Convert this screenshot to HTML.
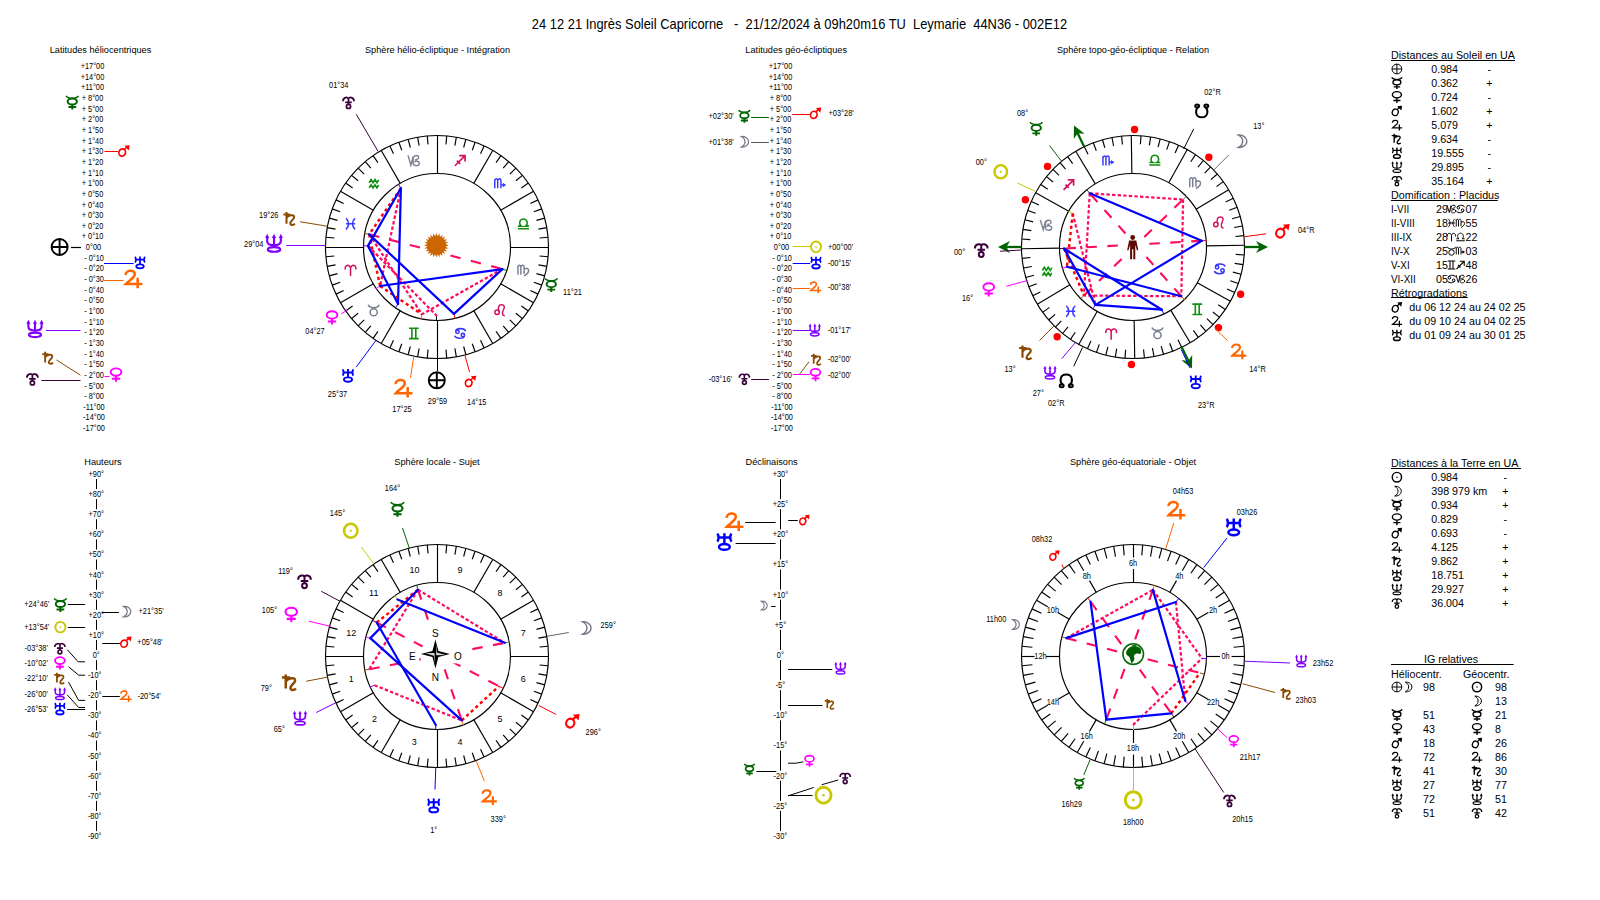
<!DOCTYPE html>
<html><head><meta charset="utf-8"><title>Ingrès Soleil Capricorne</title>
<style>html,body{margin:0;padding:0;background:#fff;width:1600px;height:900px;overflow:hidden}
svg{display:block}text{font-family:"Liberation Sans", sans-serif;white-space:pre}</style></head>
<body><svg width="1600" height="900" viewBox="0 0 1600 900" xml:space="preserve"><defs><symbol id="sun" viewBox="0 0 20 20" overflow="visible"><g fill="none" stroke="currentColor" style="stroke-width:calc(2.8 * var(--k, 1.12))" stroke-linecap="butt" stroke-linejoin="miter"><ellipse cx="10" cy="10" rx="8.4" ry="8.8"/><circle cx="10" cy="10" r="1.4" fill="currentColor" stroke="none"/></g></symbol><symbol id="moon" viewBox="0 0 20 20" overflow="visible"><g fill="none" stroke="currentColor" style="stroke-width:calc(1.9 * var(--k, 1.12))" stroke-linecap="butt" stroke-linejoin="miter"><path d="M6 1.2 C12 0.5 18 4.5 18 10 C18 15.5 12 19.5 6 18.8 C10.5 16.5 12 13.5 12 10 C12 6.5 10.5 3.5 6 1.2 Z"/></g></symbol><symbol id="mercury" viewBox="0 0 20 20" overflow="visible"><g fill="none" stroke="currentColor" style="stroke-width:calc(2.5 * var(--k, 1.12))" stroke-linecap="butt" stroke-linejoin="miter"><path d="M1.2 0.6 C4 5.2 16 5.2 18.8 0.6" style="stroke-width:calc(2 * var(--k, 1.12))"/><ellipse cx="10" cy="8.8" rx="6.6" ry="4.3"/><path d="M10 13 V20 M4.5 16.6 H15.5"/></g></symbol><symbol id="venus" viewBox="0 0 20 20" overflow="visible"><g fill="none" stroke="currentColor" style="stroke-width:calc(2.5 * var(--k, 1.12))" stroke-linecap="butt" stroke-linejoin="miter"><ellipse cx="10" cy="6.3" rx="7.6" ry="5.3"/><path d="M10 11.6 V20 M4 15.8 H16"/></g></symbol><symbol id="mars" viewBox="0 0 20 20" overflow="visible"><g fill="none" stroke="currentColor" style="stroke-width:calc(2.5 * var(--k, 1.12))" stroke-linecap="butt" stroke-linejoin="miter"><ellipse cx="7" cy="12.5" rx="5.4" ry="6" transform="rotate(20 7 12.5)"/><path d="M10.5 7.5 L16 2.5"/><path d="M10.5 1.2 L19.5 0.3 L18 9 Z" fill="currentColor" stroke="none"/></g></symbol><symbol id="jupiter" viewBox="0 0 20 20" overflow="visible"><g fill="none" stroke="currentColor" style="stroke-width:calc(2.4 * var(--k, 1.12))" stroke-linecap="butt" stroke-linejoin="miter"><path d="M1.8 6 C1.5 1 11.5 -0.5 11.5 5 C11.5 9 5 12 2 15.5 H19.5 M14.5 9 V20"/></g></symbol><symbol id="saturn" viewBox="0 0 20 20" overflow="visible"><g fill="none" stroke="currentColor" style="stroke-width:calc(2.6 * var(--k, 1.12))" stroke-linecap="butt" stroke-linejoin="miter"><path d="M5 0.5 V17 M0.5 4 H10 M5 9 C7 5 16 3 16 7.5 C16 11 10.5 13 10.5 16.5 C10.5 19.5 15 19.5 17 17"/></g></symbol><symbol id="uranus" viewBox="0 0 20 20" overflow="visible"><g fill="none" stroke="currentColor" style="stroke-width:calc(2.5 * var(--k, 1.12))" stroke-linecap="butt" stroke-linejoin="miter"><path d="M2 1 C4 3 4 8 2 10 M18 1 C16 3 16 8 18 10 M3.5 5.5 H16.5 M10 0.5 V13"/><ellipse cx="10" cy="16" rx="6" ry="3.2"/></g></symbol><symbol id="neptune" viewBox="0 0 20 20" overflow="visible"><g fill="none" stroke="currentColor" style="stroke-width:calc(2.1 * var(--k, 1.12))" stroke-linecap="butt" stroke-linejoin="miter"><path d="M2.6 3.5 V8 C2.6 11.5 5 12.3 10 12.3 C15 12.3 17.4 11.5 17.4 8 V3.5 M10 3.5 V14.2"/><ellipse cx="10" cy="17" rx="6.8" ry="2.5"/><path d="M0.3 4.6 L2.6 0 L4.9 4.6 Z M7.7 4.6 L10 0 L12.3 4.6 Z M15.1 4.6 L17.4 0 L19.7 4.6 Z" fill="currentColor" stroke="none"/></g></symbol><symbol id="pluto" viewBox="0 0 20 20" overflow="visible"><g fill="none" stroke="currentColor" style="stroke-width:calc(2.4 * var(--k, 1.12))" stroke-linecap="butt" stroke-linejoin="miter"><path d="M1.5 8 C1.5 1.5 10 0.5 10 5 C10 0.5 18.5 1.5 18.5 8 M10 5 V13 M5 9.8 H15"/><circle cx="10" cy="16" r="3.2"/></g></symbol><symbol id="earth" viewBox="0 0 20 20" overflow="visible"><g fill="none" stroke="currentColor" style="stroke-width:calc(1.9 * var(--k, 1.12))" stroke-linecap="butt" stroke-linejoin="miter"><circle cx="10" cy="10" r="8.9"/><path d="M10 1.1 V18.9 M1.1 10 H18.9"/></g></symbol><symbol id="nnode" viewBox="0 0 20 20" overflow="visible"><g fill="none" stroke="currentColor" style="stroke-width:calc(2.3 * var(--k, 1.12))" stroke-linecap="butt" stroke-linejoin="miter"><path d="M5.5 16 C1 12 1 2 10 2 C19 2 19 12 14.5 16"/><ellipse cx="4" cy="17" rx="2.6" ry="2"/><ellipse cx="16" cy="17" rx="2.6" ry="2"/></g></symbol><symbol id="snode" viewBox="0 0 20 20" overflow="visible"><g fill="none" stroke="currentColor" style="stroke-width:calc(2.3 * var(--k, 1.12))" stroke-linecap="butt" stroke-linejoin="miter"><path d="M5.5 4 C1 8 1 18 10 18 C19 18 19 8 14.5 4"/><ellipse cx="4" cy="3" rx="2.6" ry="2"/><ellipse cx="16" cy="3" rx="2.6" ry="2"/></g></symbol><symbol id="z1" viewBox="0 0 20 20" overflow="visible"><g fill="none" stroke="currentColor" style="stroke-width:calc(2.1 * var(--k, 1.12))" stroke-linecap="butt" stroke-linejoin="miter"><path d="M2 9 C0 2 9 0 10 7 V19 M10 7 C11 0 20 2 18 9"/></g></symbol><symbol id="z2" viewBox="0 0 20 20" overflow="visible"><g fill="none" stroke="currentColor" style="stroke-width:calc(2.1 * var(--k, 1.12))" stroke-linecap="butt" stroke-linejoin="miter"><path d="M1.5 1.5 C3.5 7.5 16.5 7.5 18.5 1.5"/><circle cx="10" cy="13" r="5.5"/></g></symbol><symbol id="z3" viewBox="0 0 20 20" overflow="visible"><g fill="none" stroke="currentColor" style="stroke-width:calc(2.2 * var(--k, 1.12))" stroke-linecap="butt" stroke-linejoin="miter"><path d="M2.5 2 H17.5 M2.5 18 H17.5 M7 2 V18 M13 2 V18"/></g></symbol><symbol id="z4" viewBox="0 0 20 20" overflow="visible"><g fill="none" stroke="currentColor" style="stroke-width:calc(2.1 * var(--k, 1.12))" stroke-linecap="butt" stroke-linejoin="miter"><path d="M3.5 6.5 C4 1.5 16 1 18.5 6.5 M16.5 13.5 C16 18.5 4 19 1.5 13.5"/><circle cx="5.8" cy="7.5" r="2.6"/><circle cx="14.2" cy="12.5" r="2.6"/></g></symbol><symbol id="z5" viewBox="0 0 20 20" overflow="visible"><g fill="none" stroke="currentColor" style="stroke-width:calc(2.0 * var(--k, 1.12))" stroke-linecap="butt" stroke-linejoin="miter"><circle cx="5" cy="13" r="3.4"/><path d="M8.3 12 C5.5 6 7.5 1.5 12 1.5 C16.5 1.5 17.5 5 14.5 10 C12.5 14 13 18.5 17 18.5"/></g></symbol><symbol id="z6" viewBox="0 0 20 20" overflow="visible"><g fill="none" stroke="currentColor" style="stroke-width:calc(2.0 * var(--k, 1.12))" stroke-linecap="butt" stroke-linejoin="miter"><path d="M1.5 3 V17 M1.5 5 C3 1 6 2 6 5 V17 M6 5 C8 1 11 2 11 5 V16 M11 9 C14 6 18 7 18 11 C18 15 14 17 11 19"/></g></symbol><symbol id="z7" viewBox="0 0 20 20" overflow="visible"><g fill="none" stroke="currentColor" style="stroke-width:calc(2.1 * var(--k, 1.12))" stroke-linecap="butt" stroke-linejoin="miter"><path d="M1.5 17.5 H18.5 M1.5 13.5 H7 C2.5 11 3.5 2.5 10 2.5 C16.5 2.5 17.5 11 13 13.5 H18.5"/></g></symbol><symbol id="z8" viewBox="0 0 20 20" overflow="visible"><g fill="none" stroke="currentColor" style="stroke-width:calc(2.0 * var(--k, 1.12))" stroke-linecap="butt" stroke-linejoin="miter"><path d="M1.5 3 V17 M1.5 5 C3 1 6 2 6 5 V17 M6 5 C8 1 11 2 11 5 V17 M11 12 H15"/><path d="M14 8.5 L19 12 L14 15.5 Z" fill="currentColor" stroke="none"/></g></symbol><symbol id="z9" viewBox="0 0 20 20" overflow="visible"><g fill="none" stroke="currentColor" style="stroke-width:calc(2.3 * var(--k, 1.12))" stroke-linecap="butt" stroke-linejoin="miter"><path d="M2 18 L16 4 M8.5 2.5 H17.5 V11.5 M5 10 L10 15"/></g></symbol><symbol id="z10" viewBox="0 0 20 20" overflow="visible"><g fill="none" stroke="currentColor" style="stroke-width:calc(1.9 * var(--k, 1.12))" stroke-linecap="butt" stroke-linejoin="miter"><path d="M1 2 L5.5 17 L9 3.5 V14.5 C9 19 18.5 19 18.5 14 C18.5 10.5 13 10 11 12.5 M9 6.5 C9.5 1.5 17.5 1 17.5 5 C17.5 8 13 9 11.5 9"/></g></symbol><symbol id="z11" viewBox="0 0 20 20" overflow="visible"><g fill="none" stroke="currentColor" style="stroke-width:calc(2.2 * var(--k, 1.12))" stroke-linecap="butt" stroke-linejoin="miter"><path d="M3 8.5 L6 3.5 L9 8.5 L12 3.5 L15 8.5 L17.5 4 M3 16.5 L6 11.5 L9 16.5 L12 11.5 L15 16.5 L17.5 12"/></g></symbol><symbol id="z12" viewBox="0 0 20 20" overflow="visible"><g fill="none" stroke="currentColor" style="stroke-width:calc(2.1 * var(--k, 1.12))" stroke-linecap="butt" stroke-linejoin="miter"><path d="M3 1.5 C8.5 6 8.5 14 3 18.5 M17 1.5 C11.5 6 11.5 14 17 18.5 M3 10 H17"/></g></symbol></defs>
<text transform="translate(799.50 28.51) scale(0.922 1)" font-size="14" text-anchor="middle">24 12 21 Ingrès Soleil Capricorne   -  21/12/2024 à 09h20m16 TU  Leymarie  44N36 - 002E12</text>
<text x="100.50" y="52.69" font-size="9.2" text-anchor="middle">Latitudes héliocentriques</text>
<text x="437.50" y="52.69" font-size="9.2" text-anchor="middle">Sphère hélio-écliptique - Intégration</text>
<text x="796.20" y="52.69" font-size="9.2" text-anchor="middle">Latitudes géo-écliptiques</text>
<text x="1133.00" y="52.69" font-size="9.2" text-anchor="middle">Sphère topo-géo-écliptique - Relation</text>
<text x="102.90" y="464.89" font-size="9.2" text-anchor="middle">Hauteurs</text>
<text x="437.00" y="464.89" font-size="9.2" text-anchor="middle">Sphère locale - Sujet</text>
<text x="771.60" y="464.89" font-size="9.2" text-anchor="middle">Déclinaisons</text>
<text x="1133.00" y="464.89" font-size="9.2" text-anchor="middle">Sphère géo-équatoriale - Objet</text>
<text transform="translate(92.50 69.14) scale(0.9 1)" font-size="8.2" text-anchor="middle">+17°00</text>
<text transform="translate(92.50 79.78) scale(0.9 1)" font-size="8.2" text-anchor="middle">+14°00</text>
<text transform="translate(92.50 90.43) scale(0.9 1)" font-size="8.2" text-anchor="middle">+11°00</text>
<text transform="translate(92.50 101.08) scale(0.9 1)" font-size="8.2" text-anchor="middle">+ 8°00</text>
<text transform="translate(92.50 111.72) scale(0.9 1)" font-size="8.2" text-anchor="middle">+ 5°00</text>
<text transform="translate(92.50 122.37) scale(0.9 1)" font-size="8.2" text-anchor="middle">+ 2°00</text>
<text transform="translate(92.50 133.02) scale(0.9 1)" font-size="8.2" text-anchor="middle">+ 1°50</text>
<text transform="translate(92.50 143.67) scale(0.9 1)" font-size="8.2" text-anchor="middle">+ 1°40</text>
<text transform="translate(92.50 154.31) scale(0.9 1)" font-size="8.2" text-anchor="middle">+ 1°30</text>
<text transform="translate(92.50 164.96) scale(0.9 1)" font-size="8.2" text-anchor="middle">+ 1°20</text>
<text transform="translate(92.50 175.61) scale(0.9 1)" font-size="8.2" text-anchor="middle">+ 1°10</text>
<text transform="translate(92.50 186.25) scale(0.9 1)" font-size="8.2" text-anchor="middle">+ 1°00</text>
<text transform="translate(92.50 196.90) scale(0.9 1)" font-size="8.2" text-anchor="middle">+ 0°50</text>
<text transform="translate(92.50 207.55) scale(0.9 1)" font-size="8.2" text-anchor="middle">+ 0°40</text>
<text transform="translate(92.50 218.19) scale(0.9 1)" font-size="8.2" text-anchor="middle">+ 0°30</text>
<text transform="translate(92.50 228.84) scale(0.9 1)" font-size="8.2" text-anchor="middle">+ 0°20</text>
<text transform="translate(92.50 239.49) scale(0.9 1)" font-size="8.2" text-anchor="middle">+ 0°10</text>
<text transform="translate(93.50 250.14) scale(0.9 1)" font-size="8.2" text-anchor="middle">0°00</text>
<text transform="translate(94.00 260.78) scale(0.9 1)" font-size="8.2" text-anchor="middle">- 0°10</text>
<text transform="translate(94.00 271.43) scale(0.9 1)" font-size="8.2" text-anchor="middle">- 0°20</text>
<text transform="translate(94.00 282.08) scale(0.9 1)" font-size="8.2" text-anchor="middle">- 0°30</text>
<text transform="translate(94.00 292.72) scale(0.9 1)" font-size="8.2" text-anchor="middle">- 0°40</text>
<text transform="translate(94.00 303.37) scale(0.9 1)" font-size="8.2" text-anchor="middle">- 0°50</text>
<text transform="translate(94.00 314.02) scale(0.9 1)" font-size="8.2" text-anchor="middle">- 1°00</text>
<text transform="translate(94.00 324.67) scale(0.9 1)" font-size="8.2" text-anchor="middle">- 1°10</text>
<text transform="translate(94.00 335.31) scale(0.9 1)" font-size="8.2" text-anchor="middle">- 1°20</text>
<text transform="translate(94.00 345.96) scale(0.9 1)" font-size="8.2" text-anchor="middle">- 1°30</text>
<text transform="translate(94.00 356.61) scale(0.9 1)" font-size="8.2" text-anchor="middle">- 1°40</text>
<text transform="translate(94.00 367.25) scale(0.9 1)" font-size="8.2" text-anchor="middle">- 1°50</text>
<text transform="translate(94.00 377.90) scale(0.9 1)" font-size="8.2" text-anchor="middle">- 2°00</text>
<text transform="translate(94.00 388.55) scale(0.9 1)" font-size="8.2" text-anchor="middle">- 5°00</text>
<text transform="translate(94.00 399.19) scale(0.9 1)" font-size="8.2" text-anchor="middle">- 8°00</text>
<text transform="translate(94.00 409.84) scale(0.9 1)" font-size="8.2" text-anchor="middle">-11°00</text>
<text transform="translate(94.00 420.49) scale(0.9 1)" font-size="8.2" text-anchor="middle">-14°00</text>
<text transform="translate(94.00 431.14) scale(0.9 1)" font-size="8.2" text-anchor="middle">-17°00</text>
<text transform="translate(780.50 69.14) scale(0.9 1)" font-size="8.2" text-anchor="middle">+17°00</text>
<text transform="translate(780.50 79.78) scale(0.9 1)" font-size="8.2" text-anchor="middle">+14°00</text>
<text transform="translate(780.50 90.43) scale(0.9 1)" font-size="8.2" text-anchor="middle">+11°00</text>
<text transform="translate(780.50 101.08) scale(0.9 1)" font-size="8.2" text-anchor="middle">+ 8°00</text>
<text transform="translate(780.50 111.72) scale(0.9 1)" font-size="8.2" text-anchor="middle">+ 5°00</text>
<text transform="translate(780.50 122.37) scale(0.9 1)" font-size="8.2" text-anchor="middle">+ 2°00</text>
<text transform="translate(780.50 133.02) scale(0.9 1)" font-size="8.2" text-anchor="middle">+ 1°50</text>
<text transform="translate(780.50 143.67) scale(0.9 1)" font-size="8.2" text-anchor="middle">+ 1°40</text>
<text transform="translate(780.50 154.31) scale(0.9 1)" font-size="8.2" text-anchor="middle">+ 1°30</text>
<text transform="translate(780.50 164.96) scale(0.9 1)" font-size="8.2" text-anchor="middle">+ 1°20</text>
<text transform="translate(780.50 175.61) scale(0.9 1)" font-size="8.2" text-anchor="middle">+ 1°10</text>
<text transform="translate(780.50 186.25) scale(0.9 1)" font-size="8.2" text-anchor="middle">+ 1°00</text>
<text transform="translate(780.50 196.90) scale(0.9 1)" font-size="8.2" text-anchor="middle">+ 0°50</text>
<text transform="translate(780.50 207.55) scale(0.9 1)" font-size="8.2" text-anchor="middle">+ 0°40</text>
<text transform="translate(780.50 218.19) scale(0.9 1)" font-size="8.2" text-anchor="middle">+ 0°30</text>
<text transform="translate(780.50 228.84) scale(0.9 1)" font-size="8.2" text-anchor="middle">+ 0°20</text>
<text transform="translate(780.50 239.49) scale(0.9 1)" font-size="8.2" text-anchor="middle">+ 0°10</text>
<text transform="translate(781.50 250.14) scale(0.9 1)" font-size="8.2" text-anchor="middle">0°00</text>
<text transform="translate(782.00 260.78) scale(0.9 1)" font-size="8.2" text-anchor="middle">- 0°10</text>
<text transform="translate(782.00 271.43) scale(0.9 1)" font-size="8.2" text-anchor="middle">- 0°20</text>
<text transform="translate(782.00 282.08) scale(0.9 1)" font-size="8.2" text-anchor="middle">- 0°30</text>
<text transform="translate(782.00 292.72) scale(0.9 1)" font-size="8.2" text-anchor="middle">- 0°40</text>
<text transform="translate(782.00 303.37) scale(0.9 1)" font-size="8.2" text-anchor="middle">- 0°50</text>
<text transform="translate(782.00 314.02) scale(0.9 1)" font-size="8.2" text-anchor="middle">- 1°00</text>
<text transform="translate(782.00 324.67) scale(0.9 1)" font-size="8.2" text-anchor="middle">- 1°10</text>
<text transform="translate(782.00 335.31) scale(0.9 1)" font-size="8.2" text-anchor="middle">- 1°20</text>
<text transform="translate(782.00 345.96) scale(0.9 1)" font-size="8.2" text-anchor="middle">- 1°30</text>
<text transform="translate(782.00 356.61) scale(0.9 1)" font-size="8.2" text-anchor="middle">- 1°40</text>
<text transform="translate(782.00 367.25) scale(0.9 1)" font-size="8.2" text-anchor="middle">- 1°50</text>
<text transform="translate(782.00 377.90) scale(0.9 1)" font-size="8.2" text-anchor="middle">- 2°00</text>
<text transform="translate(782.00 388.55) scale(0.9 1)" font-size="8.2" text-anchor="middle">- 5°00</text>
<text transform="translate(782.00 399.19) scale(0.9 1)" font-size="8.2" text-anchor="middle">- 8°00</text>
<text transform="translate(782.00 409.84) scale(0.9 1)" font-size="8.2" text-anchor="middle">-11°00</text>
<text transform="translate(782.00 420.49) scale(0.9 1)" font-size="8.2" text-anchor="middle">-14°00</text>
<text transform="translate(782.00 431.14) scale(0.9 1)" font-size="8.2" text-anchor="middle">-17°00</text>
<use href="#mercury" x="65.28" y="95.38" width="14.04" height="14.04" color="#006400"/>
<use href="#mars" x="118.00" y="145.00" width="12.00" height="12.00" color="#ff0000"/>
<line x1="104.50" y1="151.50" x2="118.00" y2="151.50" stroke="#ff0000" stroke-width="1"/>
<use href="#earth" x="50.60" y="238.00" width="18.00" height="18.00" color="#000"/>
<line x1="71.00" y1="247.50" x2="81.00" y2="247.50" stroke="#000" stroke-width="1.2"/>
<use href="#uranus" x="133.70" y="256.20" width="12.60" height="12.60" color="#0000ff"/>
<line x1="104.00" y1="263.50" x2="133.70" y2="263.50" stroke="#0000ff" stroke-width="1"/>
<use href="#jupiter" x="123.90" y="269.30" width="19.00" height="19.00" color="#ff6600"/>
<line x1="104.00" y1="280.50" x2="123.70" y2="280.50" stroke="#ff6600" stroke-width="1"/>
<use href="#neptune" x="26.07" y="319.68" width="17.85" height="17.85" color="#8000ff"/>
<line x1="45.90" y1="330.50" x2="80.50" y2="330.50" stroke="#8000ff" stroke-width="1"/>
<use href="#saturn" x="41.90" y="351.50" width="13.00" height="13.00" color="#8b4a00"/>
<line x1="56.50" y1="360.00" x2="80.50" y2="375.20" stroke="#8b4a00" stroke-width="1"/>
<use href="#pluto" x="25.90" y="372.50" width="13.00" height="13.00" color="#3a003a"/>
<line x1="41.30" y1="380.50" x2="80.50" y2="380.50" stroke="#3a003a" stroke-width="1"/>
<use href="#venus" x="108.98" y="367.68" width="14.04" height="14.04" color="#ff00ff"/>
<line x1="104.50" y1="376.50" x2="109.50" y2="376.50" stroke="#ff00ff" stroke-width="1"/>
<use href="#mercury" x="737.92" y="109.72" width="12.96" height="12.96" color="#006400"/>
<line x1="751.10" y1="117.50" x2="768.90" y2="117.50" stroke="#006400" stroke-width="1"/>
<text transform="translate(721.10 119.14) scale(0.9 1)" font-size="8.2" text-anchor="middle">+02°30'</text>
<use href="#mars" x="809.60" y="107.30" width="12.00" height="12.00" color="#ff0000"/>
<line x1="792.20" y1="114.50" x2="810.00" y2="114.50" stroke="#ff0000" stroke-width="1"/>
<text transform="translate(841.10 116.24) scale(0.9 1)" font-size="8.2" text-anchor="middle">+03°28'</text>
<use href="#moon" x="737.80" y="135.80" width="12.00" height="12.00" color="#787888"/>
<line x1="751.10" y1="142.50" x2="768.90" y2="142.50" stroke="#555" stroke-width="1"/>
<text transform="translate(721.10 144.74) scale(0.9 1)" font-size="8.2" text-anchor="middle">+01°38'</text>
<use href="#sun" x="810.00" y="240.80" width="12.00" height="12.00" color="#c8c800"/>
<line x1="792.70" y1="246.50" x2="810.20" y2="246.50" stroke="#c8c800" stroke-width="1"/>
<text transform="translate(840.50 249.74) scale(0.9 1)" font-size="8.2" text-anchor="middle">+00°00'</text>
<use href="#uranus" x="809.70" y="256.40" width="12.60" height="12.60" color="#0000ff"/>
<line x1="792.70" y1="263.50" x2="810.20" y2="263.50" stroke="#0000ff" stroke-width="1"/>
<text transform="translate(839.30 265.64) scale(0.9 1)" font-size="8.2" text-anchor="middle">-00°15'</text>
<use href="#jupiter" x="809.50" y="281.20" width="12.00" height="12.00" color="#ff6600"/>
<line x1="792.70" y1="288.50" x2="810.20" y2="288.50" stroke="#ff6600" stroke-width="1"/>
<text transform="translate(839.30 290.14) scale(0.9 1)" font-size="8.2" text-anchor="middle">-00°38'</text>
<use href="#neptune" x="808.50" y="323.60" width="12.60" height="12.60" color="#8000ff"/>
<line x1="792.70" y1="330.50" x2="810.00" y2="330.50" stroke="#8000ff" stroke-width="1"/>
<text transform="translate(839.30 332.84) scale(0.9 1)" font-size="8.2" text-anchor="middle">-01°17'</text>
<use href="#saturn" x="810.70" y="353.50" width="12.00" height="12.00" color="#8b4a00"/>
<line x1="799.20" y1="374.70" x2="809.00" y2="361.80" stroke="#8b4a00" stroke-width="1"/>
<text transform="translate(839.30 362.44) scale(0.9 1)" font-size="8.2" text-anchor="middle">-02°00'</text>
<use href="#venus" x="809.02" y="368.22" width="12.96" height="12.96" color="#ff00ff"/>
<line x1="792.70" y1="374.50" x2="810.00" y2="374.50" stroke="#ff00ff" stroke-width="1"/>
<text transform="translate(839.30 377.64) scale(0.9 1)" font-size="8.2" text-anchor="middle">-02°00'</text>
<use href="#pluto" x="738.40" y="372.90" width="12.00" height="12.00" color="#3a003a"/>
<line x1="751.10" y1="379.50" x2="768.90" y2="379.50" stroke="#3a003a" stroke-width="1"/>
<text transform="translate(720.30 381.84) scale(0.9 1)" font-size="8.2" text-anchor="middle">-03°16'</text>
<text transform="translate(96.20 476.94) scale(0.9 1)" font-size="8.2" text-anchor="middle">+90°</text>
<line x1="96.50" y1="479.00" x2="96.50" y2="489.12" stroke="#000" stroke-width="1"/>
<text transform="translate(96.20 497.05) scale(0.9 1)" font-size="8.2" text-anchor="middle">+80°</text>
<line x1="96.50" y1="499.12" x2="96.50" y2="509.23" stroke="#000" stroke-width="1"/>
<text transform="translate(96.20 517.17) scale(0.9 1)" font-size="8.2" text-anchor="middle">+70°</text>
<line x1="96.50" y1="519.23" x2="96.50" y2="529.35" stroke="#000" stroke-width="1"/>
<text transform="translate(96.20 537.29) scale(0.9 1)" font-size="8.2" text-anchor="middle">+60°</text>
<line x1="96.50" y1="539.35" x2="96.50" y2="549.47" stroke="#000" stroke-width="1"/>
<text transform="translate(96.20 557.40) scale(0.9 1)" font-size="8.2" text-anchor="middle">+50°</text>
<line x1="96.50" y1="559.47" x2="96.50" y2="569.58" stroke="#000" stroke-width="1"/>
<text transform="translate(96.20 577.52) scale(0.9 1)" font-size="8.2" text-anchor="middle">+40°</text>
<line x1="96.50" y1="579.58" x2="96.50" y2="589.70" stroke="#000" stroke-width="1"/>
<text transform="translate(96.20 597.64) scale(0.9 1)" font-size="8.2" text-anchor="middle">+30°</text>
<line x1="96.50" y1="599.70" x2="96.50" y2="609.82" stroke="#000" stroke-width="1"/>
<text transform="translate(96.20 617.75) scale(0.9 1)" font-size="8.2" text-anchor="middle">+20°</text>
<line x1="96.50" y1="619.82" x2="96.50" y2="629.93" stroke="#000" stroke-width="1"/>
<text transform="translate(96.20 637.87) scale(0.9 1)" font-size="8.2" text-anchor="middle">+10°</text>
<line x1="96.50" y1="639.93" x2="96.50" y2="650.05" stroke="#000" stroke-width="1"/>
<text transform="translate(96.20 657.99) scale(0.9 1)" font-size="8.2" text-anchor="middle">0°</text>
<line x1="96.50" y1="660.05" x2="96.50" y2="670.17" stroke="#000" stroke-width="1"/>
<text transform="translate(94.70 678.10) scale(0.9 1)" font-size="8.2" text-anchor="middle">-10°</text>
<line x1="96.50" y1="680.17" x2="96.50" y2="690.28" stroke="#000" stroke-width="1"/>
<text transform="translate(94.70 698.22) scale(0.9 1)" font-size="8.2" text-anchor="middle">-20°</text>
<line x1="96.50" y1="700.28" x2="96.50" y2="710.40" stroke="#000" stroke-width="1"/>
<text transform="translate(94.70 718.34) scale(0.9 1)" font-size="8.2" text-anchor="middle">-30°</text>
<line x1="96.50" y1="720.40" x2="96.50" y2="730.52" stroke="#000" stroke-width="1"/>
<text transform="translate(94.70 738.45) scale(0.9 1)" font-size="8.2" text-anchor="middle">-40°</text>
<line x1="96.50" y1="740.52" x2="96.50" y2="750.63" stroke="#000" stroke-width="1"/>
<text transform="translate(94.70 758.57) scale(0.9 1)" font-size="8.2" text-anchor="middle">-50°</text>
<line x1="96.50" y1="760.63" x2="96.50" y2="770.75" stroke="#000" stroke-width="1"/>
<text transform="translate(94.70 778.69) scale(0.9 1)" font-size="8.2" text-anchor="middle">-60°</text>
<line x1="96.50" y1="780.75" x2="96.50" y2="790.87" stroke="#000" stroke-width="1"/>
<text transform="translate(94.70 798.80) scale(0.9 1)" font-size="8.2" text-anchor="middle">-70°</text>
<line x1="96.50" y1="800.87" x2="96.50" y2="810.98" stroke="#000" stroke-width="1"/>
<text transform="translate(94.70 818.92) scale(0.9 1)" font-size="8.2" text-anchor="middle">-80°</text>
<line x1="96.50" y1="820.98" x2="96.50" y2="831.10" stroke="#000" stroke-width="1"/>
<text transform="translate(94.70 839.04) scale(0.9 1)" font-size="8.2" text-anchor="middle">-90°</text>
<use href="#mercury" x="53.38" y="597.88" width="14.04" height="14.04" color="#006400"/>
<line x1="67.80" y1="604.50" x2="85.10" y2="604.50" stroke="#000" stroke-width="1"/>
<text transform="translate(36.70 606.74) scale(0.9 1)" font-size="8.2" text-anchor="middle">+24°46'</text>
<use href="#moon" x="120.00" y="605.60" width="12.00" height="12.00" color="#787888"/>
<line x1="101.80" y1="612.50" x2="118.90" y2="612.50" stroke="#000" stroke-width="1"/>
<text transform="translate(151.10 613.84) scale(0.9 1)" font-size="8.2" text-anchor="middle">+21°35'</text>
<use href="#sun" x="54.40" y="621.10" width="12.00" height="12.00" color="#c8c800"/>
<line x1="67.80" y1="627.50" x2="85.10" y2="627.50" stroke="#000" stroke-width="1"/>
<text transform="translate(36.70 630.04) scale(0.9 1)" font-size="8.2" text-anchor="middle">+13°54'</text>
<use href="#mars" x="119.90" y="636.20" width="12.00" height="12.00" color="#ff0000"/>
<line x1="102.20" y1="643.50" x2="119.80" y2="643.50" stroke="#000" stroke-width="1"/>
<text transform="translate(149.90 645.14) scale(0.9 1)" font-size="8.2" text-anchor="middle">+05°48'</text>
<use href="#jupiter" x="119.90" y="690.00" width="12.00" height="12.00" color="#ff6600"/>
<line x1="102.20" y1="696.50" x2="119.80" y2="696.50" stroke="#000" stroke-width="1"/>
<text transform="translate(149.10 698.94) scale(0.9 1)" font-size="8.2" text-anchor="middle">-20°54'</text>
<use href="#pluto" x="53.90" y="642.30" width="12.00" height="12.00" color="#3a003a"/>
<polyline points="67.20,649.60 78.20,661.80 85.10,661.80" fill="none" stroke="#000" stroke-width="1"/>
<text transform="translate(36.20 651.24) scale(0.9 1)" font-size="8.2" text-anchor="middle">-03°38'</text>
<use href="#venus" x="53.42" y="656.52" width="12.96" height="12.96" color="#ff00ff"/>
<polyline points="68.50,666.70 78.70,675.20 85.10,675.20" fill="none" stroke="#000" stroke-width="1"/>
<text transform="translate(36.20 665.94) scale(0.9 1)" font-size="8.2" text-anchor="middle">-10°02'</text>
<use href="#saturn" x="53.90" y="672.40" width="12.00" height="12.00" color="#8b4a00"/>
<polyline points="68.50,682.10 78.70,700.40 85.10,700.40" fill="none" stroke="#000" stroke-width="1"/>
<text transform="translate(36.20 681.34) scale(0.9 1)" font-size="8.2" text-anchor="middle">-22°10'</text>
<use href="#neptune" x="53.60" y="687.30" width="12.60" height="12.60" color="#8000ff"/>
<polyline points="67.20,694.80 78.70,707.50 85.10,707.50" fill="none" stroke="#000" stroke-width="1"/>
<text transform="translate(36.20 696.54) scale(0.9 1)" font-size="8.2" text-anchor="middle">-26°00'</text>
<use href="#uranus" x="53.60" y="702.40" width="12.60" height="12.60" color="#0000ff"/>
<line x1="67.20" y1="709.50" x2="85.10" y2="709.50" stroke="#000" stroke-width="1"/>
<text transform="translate(36.20 711.64) scale(0.9 1)" font-size="8.2" text-anchor="middle">-26°53'</text>
<text transform="translate(780.40 476.94) scale(0.9 1)" font-size="8.2" text-anchor="middle">+30°</text>
<line x1="780.50" y1="479.00" x2="780.50" y2="499.17" stroke="#000" stroke-width="1"/>
<text transform="translate(780.40 507.10) scale(0.9 1)" font-size="8.2" text-anchor="middle">+25°</text>
<line x1="780.50" y1="509.17" x2="780.50" y2="529.33" stroke="#000" stroke-width="1"/>
<text transform="translate(780.40 537.27) scale(0.9 1)" font-size="8.2" text-anchor="middle">+20°</text>
<line x1="780.50" y1="539.33" x2="780.50" y2="559.50" stroke="#000" stroke-width="1"/>
<text transform="translate(780.40 567.44) scale(0.9 1)" font-size="8.2" text-anchor="middle">+15°</text>
<line x1="780.50" y1="569.50" x2="780.50" y2="589.67" stroke="#000" stroke-width="1"/>
<text transform="translate(780.40 597.60) scale(0.9 1)" font-size="8.2" text-anchor="middle">+10°</text>
<line x1="780.50" y1="599.67" x2="780.50" y2="619.83" stroke="#000" stroke-width="1"/>
<text transform="translate(780.40 627.77) scale(0.9 1)" font-size="8.2" text-anchor="middle">+5°</text>
<line x1="780.50" y1="629.83" x2="780.50" y2="650.00" stroke="#000" stroke-width="1"/>
<text transform="translate(780.40 657.94) scale(0.9 1)" font-size="8.2" text-anchor="middle">0°</text>
<line x1="780.50" y1="660.00" x2="780.50" y2="680.17" stroke="#000" stroke-width="1"/>
<text transform="translate(780.40 688.10) scale(0.9 1)" font-size="8.2" text-anchor="middle">-5°</text>
<line x1="780.50" y1="690.17" x2="780.50" y2="710.33" stroke="#000" stroke-width="1"/>
<text transform="translate(780.40 718.27) scale(0.9 1)" font-size="8.2" text-anchor="middle">-10°</text>
<line x1="780.50" y1="720.33" x2="780.50" y2="740.50" stroke="#000" stroke-width="1"/>
<text transform="translate(780.40 748.44) scale(0.9 1)" font-size="8.2" text-anchor="middle">-15°</text>
<line x1="780.50" y1="750.50" x2="780.50" y2="770.67" stroke="#000" stroke-width="1"/>
<text transform="translate(780.40 778.60) scale(0.9 1)" font-size="8.2" text-anchor="middle">-20°</text>
<line x1="780.50" y1="780.67" x2="780.50" y2="800.83" stroke="#000" stroke-width="1"/>
<text transform="translate(780.40 808.77) scale(0.9 1)" font-size="8.2" text-anchor="middle">-25°</text>
<line x1="780.50" y1="810.83" x2="780.50" y2="831.00" stroke="#000" stroke-width="1"/>
<text transform="translate(780.40 838.94) scale(0.9 1)" font-size="8.2" text-anchor="middle">-30°</text>
<use href="#jupiter" x="724.90" y="512.10" width="19.00" height="19.00" color="#ff6600"/>
<line x1="745.10" y1="522.50" x2="775.60" y2="522.50" stroke="#000" stroke-width="1"/>
<use href="#mars" x="798.90" y="514.50" width="11.00" height="11.00" color="#ff0000"/>
<line x1="788.20" y1="520.50" x2="797.80" y2="520.50" stroke="#000" stroke-width="1"/>
<use href="#uranus" x="715.48" y="532.68" width="17.85" height="17.85" color="#0000ff"/>
<line x1="735.60" y1="543.50" x2="775.60" y2="543.50" stroke="#000" stroke-width="1"/>
<use href="#moon" x="758.30" y="600.60" width="10.00" height="10.00" color="#787888"/>
<line x1="771.10" y1="606.50" x2="775.60" y2="606.50" stroke="#000" stroke-width="1"/>
<use href="#neptune" x="834.20" y="661.70" width="12.60" height="12.60" color="#8000ff"/>
<line x1="788.00" y1="669.50" x2="832.30" y2="669.50" stroke="#000" stroke-width="1"/>
<use href="#saturn" x="824.50" y="698.70" width="11.00" height="11.00" color="#8b4a00"/>
<line x1="788.00" y1="705.50" x2="822.50" y2="705.50" stroke="#000" stroke-width="1"/>
<use href="#venus" x="803.56" y="754.96" width="11.88" height="11.88" color="#ff00ff"/>
<polyline points="788.00,763.20 796.20,763.20 803.20,761.80" fill="none" stroke="#000" stroke-width="1"/>
<use href="#mercury" x="743.56" y="763.56" width="11.88" height="11.88" color="#006400"/>
<line x1="756.50" y1="771.50" x2="776.30" y2="771.50" stroke="#000" stroke-width="1"/>
<use href="#pluto" x="839.20" y="772.10" width="12.00" height="12.00" color="#3a003a"/>
<line x1="788.00" y1="795.90" x2="813.70" y2="787.50" stroke="#000" stroke-width="1"/>
<line x1="821.80" y1="784.70" x2="838.20" y2="780.00" stroke="#000" stroke-width="1"/>
<use href="#sun" x="814.50" y="786.20" width="18.00" height="18.00" color="#c8c800"/>
<line x1="788.00" y1="795.50" x2="812.50" y2="795.50" stroke="#000" stroke-width="1"/>
<circle cx="437.00" cy="247.00" r="111.50" fill="none" stroke="#000" stroke-width="1.15"/>
<circle cx="437.00" cy="247.00" r="73.50" fill="none" stroke="#000" stroke-width="1.15"/>
<line x1="510.50" y1="247.50" x2="548.50" y2="247.50" stroke="#000" stroke-width="1.15"/>
<line x1="500.65" y1="210.25" x2="533.56" y2="191.25" stroke="#000" stroke-width="1.15"/>
<line x1="473.75" y1="183.35" x2="492.75" y2="150.44" stroke="#000" stroke-width="1.15"/>
<line x1="437.50" y1="173.50" x2="437.50" y2="135.50" stroke="#000" stroke-width="1.15"/>
<line x1="400.25" y1="183.35" x2="381.25" y2="150.44" stroke="#000" stroke-width="1.15"/>
<line x1="373.35" y1="210.25" x2="340.44" y2="191.25" stroke="#000" stroke-width="1.15"/>
<line x1="363.50" y1="247.50" x2="325.50" y2="247.50" stroke="#000" stroke-width="1.15"/>
<line x1="373.35" y1="283.75" x2="340.44" y2="302.75" stroke="#000" stroke-width="1.15"/>
<line x1="400.25" y1="310.65" x2="381.25" y2="343.56" stroke="#000" stroke-width="1.15"/>
<line x1="437.50" y1="320.50" x2="437.50" y2="358.50" stroke="#000" stroke-width="1.15"/>
<line x1="473.75" y1="310.65" x2="492.75" y2="343.56" stroke="#000" stroke-width="1.15"/>
<line x1="500.65" y1="283.75" x2="533.56" y2="302.75" stroke="#000" stroke-width="1.15"/>
<line x1="539.61" y1="238.02" x2="548.08" y2="237.28" stroke="#000" stroke-width="1.15"/>
<line x1="538.44" y1="229.11" x2="546.81" y2="227.64" stroke="#000" stroke-width="1.15"/>
<line x1="536.49" y1="220.34" x2="544.70" y2="218.14" stroke="#000" stroke-width="1.15"/>
<line x1="533.79" y1="211.77" x2="541.78" y2="208.86" stroke="#000" stroke-width="1.15"/>
<line x1="530.35" y1="203.47" x2="538.05" y2="199.88" stroke="#000" stroke-width="1.15"/>
<line x1="521.37" y1="187.92" x2="528.34" y2="183.05" stroke="#000" stroke-width="1.15"/>
<line x1="515.90" y1="180.79" x2="522.41" y2="175.33" stroke="#000" stroke-width="1.15"/>
<line x1="509.83" y1="174.17" x2="515.84" y2="168.16" stroke="#000" stroke-width="1.15"/>
<line x1="503.21" y1="168.10" x2="508.67" y2="161.59" stroke="#000" stroke-width="1.15"/>
<line x1="496.08" y1="162.63" x2="500.95" y2="155.66" stroke="#000" stroke-width="1.15"/>
<line x1="480.53" y1="153.65" x2="484.12" y2="145.95" stroke="#000" stroke-width="1.15"/>
<line x1="472.23" y1="150.21" x2="475.14" y2="142.22" stroke="#000" stroke-width="1.15"/>
<line x1="463.66" y1="147.51" x2="465.86" y2="139.30" stroke="#000" stroke-width="1.15"/>
<line x1="454.89" y1="145.56" x2="456.36" y2="137.19" stroke="#000" stroke-width="1.15"/>
<line x1="445.98" y1="144.39" x2="446.72" y2="135.92" stroke="#000" stroke-width="1.15"/>
<line x1="428.02" y1="144.39" x2="427.28" y2="135.92" stroke="#000" stroke-width="1.15"/>
<line x1="419.11" y1="145.56" x2="417.64" y2="137.19" stroke="#000" stroke-width="1.15"/>
<line x1="410.34" y1="147.51" x2="408.14" y2="139.30" stroke="#000" stroke-width="1.15"/>
<line x1="401.77" y1="150.21" x2="398.86" y2="142.22" stroke="#000" stroke-width="1.15"/>
<line x1="393.47" y1="153.65" x2="389.88" y2="145.95" stroke="#000" stroke-width="1.15"/>
<line x1="377.92" y1="162.63" x2="373.05" y2="155.66" stroke="#000" stroke-width="1.15"/>
<line x1="370.79" y1="168.10" x2="365.33" y2="161.59" stroke="#000" stroke-width="1.15"/>
<line x1="364.17" y1="174.17" x2="358.16" y2="168.16" stroke="#000" stroke-width="1.15"/>
<line x1="358.10" y1="180.79" x2="351.59" y2="175.33" stroke="#000" stroke-width="1.15"/>
<line x1="352.63" y1="187.92" x2="345.66" y2="183.05" stroke="#000" stroke-width="1.15"/>
<line x1="343.65" y1="203.47" x2="335.95" y2="199.88" stroke="#000" stroke-width="1.15"/>
<line x1="340.21" y1="211.77" x2="332.22" y2="208.86" stroke="#000" stroke-width="1.15"/>
<line x1="337.51" y1="220.34" x2="329.30" y2="218.14" stroke="#000" stroke-width="1.15"/>
<line x1="335.56" y1="229.11" x2="327.19" y2="227.64" stroke="#000" stroke-width="1.15"/>
<line x1="334.39" y1="238.02" x2="325.92" y2="237.28" stroke="#000" stroke-width="1.15"/>
<line x1="334.39" y1="255.98" x2="325.92" y2="256.72" stroke="#000" stroke-width="1.15"/>
<line x1="335.56" y1="264.89" x2="327.19" y2="266.36" stroke="#000" stroke-width="1.15"/>
<line x1="337.51" y1="273.66" x2="329.30" y2="275.86" stroke="#000" stroke-width="1.15"/>
<line x1="340.21" y1="282.23" x2="332.22" y2="285.14" stroke="#000" stroke-width="1.15"/>
<line x1="343.65" y1="290.53" x2="335.95" y2="294.12" stroke="#000" stroke-width="1.15"/>
<line x1="352.63" y1="306.08" x2="345.66" y2="310.95" stroke="#000" stroke-width="1.15"/>
<line x1="358.10" y1="313.21" x2="351.59" y2="318.67" stroke="#000" stroke-width="1.15"/>
<line x1="364.17" y1="319.83" x2="358.16" y2="325.84" stroke="#000" stroke-width="1.15"/>
<line x1="370.79" y1="325.90" x2="365.33" y2="332.41" stroke="#000" stroke-width="1.15"/>
<line x1="377.92" y1="331.37" x2="373.05" y2="338.34" stroke="#000" stroke-width="1.15"/>
<line x1="393.47" y1="340.35" x2="389.88" y2="348.05" stroke="#000" stroke-width="1.15"/>
<line x1="401.77" y1="343.79" x2="398.86" y2="351.78" stroke="#000" stroke-width="1.15"/>
<line x1="410.34" y1="346.49" x2="408.14" y2="354.70" stroke="#000" stroke-width="1.15"/>
<line x1="419.11" y1="348.44" x2="417.64" y2="356.81" stroke="#000" stroke-width="1.15"/>
<line x1="428.02" y1="349.61" x2="427.28" y2="358.08" stroke="#000" stroke-width="1.15"/>
<line x1="445.98" y1="349.61" x2="446.72" y2="358.08" stroke="#000" stroke-width="1.15"/>
<line x1="454.89" y1="348.44" x2="456.36" y2="356.81" stroke="#000" stroke-width="1.15"/>
<line x1="463.66" y1="346.49" x2="465.86" y2="354.70" stroke="#000" stroke-width="1.15"/>
<line x1="472.23" y1="343.79" x2="475.14" y2="351.78" stroke="#000" stroke-width="1.15"/>
<line x1="480.53" y1="340.35" x2="484.12" y2="348.05" stroke="#000" stroke-width="1.15"/>
<line x1="496.08" y1="331.37" x2="500.95" y2="338.34" stroke="#000" stroke-width="1.15"/>
<line x1="503.21" y1="325.90" x2="508.67" y2="332.41" stroke="#000" stroke-width="1.15"/>
<line x1="509.83" y1="319.83" x2="515.84" y2="325.84" stroke="#000" stroke-width="1.15"/>
<line x1="515.90" y1="313.21" x2="522.41" y2="318.67" stroke="#000" stroke-width="1.15"/>
<line x1="521.37" y1="306.08" x2="528.34" y2="310.95" stroke="#000" stroke-width="1.15"/>
<line x1="530.35" y1="290.53" x2="538.05" y2="294.12" stroke="#000" stroke-width="1.15"/>
<line x1="533.79" y1="282.23" x2="541.78" y2="285.14" stroke="#000" stroke-width="1.15"/>
<line x1="536.49" y1="273.66" x2="544.70" y2="275.86" stroke="#000" stroke-width="1.15"/>
<line x1="538.44" y1="264.89" x2="546.81" y2="266.36" stroke="#000" stroke-width="1.15"/>
<line x1="539.61" y1="255.98" x2="548.08" y2="256.72" stroke="#000" stroke-width="1.15"/>
<use href="#z1" x="344.05" y="263.66" width="13.00" height="13.00" color="#d01060"/>
<use href="#z2" x="367.21" y="303.79" width="13.00" height="13.00" color="#7a8090"/>
<use href="#z3" x="407.34" y="326.95" width="13.00" height="13.00" color="#109010"/>
<use href="#z4" x="453.66" y="326.95" width="13.00" height="13.00" color="#3838ff"/>
<use href="#z5" x="493.79" y="303.79" width="13.00" height="13.00" color="#d01060"/>
<use href="#z6" x="516.95" y="263.66" width="13.00" height="13.00" color="#7a8090"/>
<use href="#z7" x="516.95" y="217.34" width="13.00" height="13.00" color="#109010"/>
<use href="#z8" x="493.79" y="177.21" width="13.00" height="13.00" color="#3838ff"/>
<use href="#z9" x="453.66" y="154.05" width="13.00" height="13.00" color="#d01060"/>
<use href="#z10" x="407.34" y="154.05" width="13.00" height="13.00" color="#7a8090"/>
<use href="#z11" x="367.21" y="177.21" width="13.00" height="13.00" color="#109010"/>
<use href="#z12" x="344.05" y="217.34" width="13.00" height="13.00" color="#3838ff"/>
<line x1="400.88" y1="188.21" x2="398.26" y2="183.95" stroke="#3a003a" stroke-width="1"/>
<line x1="369.17" y1="234.34" x2="364.26" y2="233.43" stroke="#8b4a00" stroke-width="1"/>
<line x1="368.01" y1="245.88" x2="363.01" y2="245.80" stroke="#8000ff" stroke-width="1"/>
<line x1="380.10" y1="286.03" x2="375.98" y2="288.86" stroke="#ff00ff" stroke-width="1"/>
<line x1="398.04" y1="303.95" x2="395.21" y2="308.07" stroke="#0000ff" stroke-width="1"/>
<line x1="421.97" y1="314.34" x2="420.88" y2="319.22" stroke="#ff6600" stroke-width="1"/>
<line x1="436.50" y1="316.00" x2="436.50" y2="321.00" stroke="#000" stroke-width="1"/>
<line x1="453.98" y1="313.88" x2="455.22" y2="318.72" stroke="#ff0000" stroke-width="1"/>
<line x1="502.38" y1="269.07" x2="507.11" y2="270.66" stroke="#006400" stroke-width="1"/>
<line x1="369.17" y1="234.34" x2="502.38" y2="269.07" stroke="#ff0a60" stroke-width="2.1" stroke-dasharray="10.5 10.5"/>
<line x1="400.88" y1="188.21" x2="380.10" y2="286.03" stroke="#ff0a60" stroke-width="2.2" stroke-dasharray="3.4 2.2"/>
<line x1="369.17" y1="234.34" x2="421.97" y2="314.34" stroke="#ff0a60" stroke-width="2.2" stroke-dasharray="3.4 2.2"/>
<line x1="368.01" y1="245.88" x2="436.98" y2="316.00" stroke="#ff0a60" stroke-width="2.2" stroke-dasharray="3.4 2.2"/>
<line x1="502.38" y1="269.07" x2="421.97" y2="314.34" stroke="#ff0a60" stroke-width="2.2" stroke-dasharray="3.4 2.2"/>
<line x1="400.88" y1="188.21" x2="369.17" y2="234.34" stroke="#ff0000" stroke-width="2.4" stroke-dasharray="3.2 3"/>
<line x1="369.17" y1="234.34" x2="380.10" y2="286.03" stroke="#ff0000" stroke-width="2.4" stroke-dasharray="3.2 3"/>
<line x1="380.10" y1="286.03" x2="421.97" y2="314.34" stroke="#ff0000" stroke-width="2.4" stroke-dasharray="3.2 3"/>
<line x1="400.88" y1="188.21" x2="398.04" y2="303.95" stroke="#0000ff" stroke-width="2.2" stroke-linecap="round"/>
<line x1="400.88" y1="188.21" x2="368.01" y2="245.88" stroke="#0000ff" stroke-width="2.2" stroke-linecap="round"/>
<line x1="369.17" y1="234.34" x2="453.98" y2="313.88" stroke="#0000ff" stroke-width="2.2" stroke-linecap="round"/>
<line x1="368.01" y1="245.88" x2="398.04" y2="303.95" stroke="#0000ff" stroke-width="2.2" stroke-linecap="round"/>
<line x1="380.10" y1="286.03" x2="502.38" y2="269.07" stroke="#0000ff" stroke-width="2.2" stroke-linecap="round"/>
<line x1="502.38" y1="269.07" x2="453.98" y2="313.88" stroke="#0000ff" stroke-width="2.2" stroke-linecap="round"/>
<use href="#pluto" x="342.00" y="96.00" width="13.00" height="13.00" color="#3a003a"/>
<line x1="356.25" y1="114.25" x2="378.00" y2="151.25" stroke="#3a003a" stroke-width="1"/>
<text transform="translate(338.75 88.19) scale(0.9 1)" font-size="8.2" text-anchor="middle">01°34</text>
<use href="#saturn" x="283.00" y="211.75" width="14.00" height="14.00" color="#8b4a00"/>
<line x1="300.00" y1="221.75" x2="327.50" y2="226.25" stroke="#8b4a00" stroke-width="1"/>
<text transform="translate(268.75 218.44) scale(0.9 1)" font-size="8.2" text-anchor="middle">19°26</text>
<use href="#neptune" x="264.81" y="233.81" width="18.38" height="18.38" color="#8000ff"/>
<line x1="286.25" y1="245.50" x2="325.75" y2="245.50" stroke="#8000ff" stroke-width="1"/>
<text transform="translate(253.75 247.19) scale(0.9 1)" font-size="8.2" text-anchor="middle">29°04</text>
<use href="#mercury" x="544.23" y="277.98" width="14.04" height="14.04" color="#006400"/>
<text transform="translate(572.50 294.94) scale(0.9 1)" font-size="8.2" text-anchor="middle">11°21</text>
<use href="#venus" x="324.98" y="310.48" width="14.04" height="14.04" color="#ff00ff"/>
<line x1="341.25" y1="313.75" x2="347.50" y2="310.00" stroke="#ff00ff" stroke-width="1"/>
<text transform="translate(315.00 333.94) scale(0.9 1)" font-size="8.2" text-anchor="middle">04°27</text>
<use href="#uranus" x="341.18" y="368.68" width="13.65" height="13.65" color="#0000ff"/>
<line x1="356.25" y1="367.00" x2="376.25" y2="340.00" stroke="#0000ff" stroke-width="1"/>
<text transform="translate(337.50 397.19) scale(0.9 1)" font-size="8.2" text-anchor="middle">25°37</text>
<use href="#jupiter" x="393.90" y="378.50" width="19.00" height="19.00" color="#ff6600"/>
<line x1="410.50" y1="378.00" x2="413.75" y2="356.25" stroke="#ff6600" stroke-width="1"/>
<text transform="translate(402.00 411.69) scale(0.9 1)" font-size="8.2" text-anchor="middle">17°25</text>
<use href="#earth" x="427.80" y="371.30" width="18.00" height="18.00" color="#000"/>
<line x1="437.50" y1="358.00" x2="437.50" y2="371.00" stroke="#000" stroke-width="1"/>
<text transform="translate(437.50 403.69) scale(0.9 1)" font-size="8.2" text-anchor="middle">29°59</text>
<use href="#mars" x="464.50" y="375.50" width="12.00" height="12.00" color="#ff0000"/>
<line x1="465.00" y1="355.50" x2="469.50" y2="372.00" stroke="#ff0000" stroke-width="1"/>
<text transform="translate(476.75 404.94) scale(0.9 1)" font-size="8.2" text-anchor="middle">14°15</text>
<polygon points="448.70,245.30 445.42,246.49 448.28,248.48 444.81,248.78 447.05,251.45 443.62,250.84 445.10,254.00 441.94,252.52 442.55,255.95 439.88,253.71 439.58,257.18 437.59,254.32 436.40,257.60 435.21,254.32 433.22,257.18 432.92,253.71 430.25,255.95 430.86,252.52 427.70,254.00 429.18,250.84 425.75,251.45 427.99,248.78 424.52,248.48 427.38,246.49 424.10,245.30 427.38,244.11 424.52,242.12 427.99,241.82 425.75,239.15 429.18,239.76 427.70,236.60 430.86,238.08 430.25,234.65 432.92,236.89 433.22,233.42 435.21,236.28 436.40,233.00 437.59,236.28 439.58,233.42 439.88,236.89 442.55,234.65 441.94,238.08 445.10,236.60 443.62,239.76 447.05,239.15 444.81,241.82 448.28,242.12 445.42,244.11" fill="#cc6600"/>
<circle cx="436.40" cy="245.30" r="9.35" fill="#cc6600"/>
<circle cx="1133.00" cy="247.00" r="111.50" fill="none" stroke="#000" stroke-width="1.15"/>
<circle cx="1133.00" cy="247.00" r="73.50" fill="none" stroke="#000" stroke-width="1.15"/>
<line x1="1059.51" y1="248.13" x2="1021.51" y2="248.71" stroke="#000" stroke-width="1.15"/>
<line x1="1069.92" y1="284.72" x2="1037.31" y2="304.23" stroke="#000" stroke-width="1.15"/>
<line x1="1097.23" y1="311.21" x2="1078.74" y2="344.41" stroke="#000" stroke-width="1.15"/>
<line x1="1134.13" y1="320.49" x2="1134.71" y2="358.49" stroke="#000" stroke-width="1.15"/>
<line x1="1170.72" y1="310.08" x2="1190.23" y2="342.69" stroke="#000" stroke-width="1.15"/>
<line x1="1197.21" y1="282.77" x2="1230.41" y2="301.26" stroke="#000" stroke-width="1.15"/>
<line x1="1206.49" y1="245.87" x2="1244.49" y2="245.29" stroke="#000" stroke-width="1.15"/>
<line x1="1196.08" y1="209.28" x2="1228.69" y2="189.77" stroke="#000" stroke-width="1.15"/>
<line x1="1168.77" y1="182.79" x2="1187.26" y2="149.59" stroke="#000" stroke-width="1.15"/>
<line x1="1131.87" y1="173.51" x2="1131.29" y2="135.51" stroke="#000" stroke-width="1.15"/>
<line x1="1095.28" y1="183.92" x2="1075.77" y2="151.31" stroke="#000" stroke-width="1.15"/>
<line x1="1068.79" y1="211.23" x2="1035.59" y2="192.74" stroke="#000" stroke-width="1.15"/>
<line x1="1030.54" y1="257.55" x2="1022.09" y2="258.42" stroke="#000" stroke-width="1.15"/>
<line x1="1031.85" y1="266.44" x2="1023.50" y2="268.05" stroke="#000" stroke-width="1.15"/>
<line x1="1033.93" y1="275.18" x2="1025.76" y2="277.51" stroke="#000" stroke-width="1.15"/>
<line x1="1036.76" y1="283.71" x2="1028.82" y2="286.74" stroke="#000" stroke-width="1.15"/>
<line x1="1040.33" y1="291.96" x2="1032.68" y2="295.67" stroke="#000" stroke-width="1.15"/>
<line x1="1049.54" y1="307.37" x2="1042.66" y2="312.35" stroke="#000" stroke-width="1.15"/>
<line x1="1055.12" y1="314.41" x2="1048.70" y2="319.97" stroke="#000" stroke-width="1.15"/>
<line x1="1061.30" y1="320.94" x2="1055.38" y2="327.04" stroke="#000" stroke-width="1.15"/>
<line x1="1068.01" y1="326.91" x2="1062.65" y2="333.50" stroke="#000" stroke-width="1.15"/>
<line x1="1075.22" y1="332.27" x2="1070.46" y2="339.31" stroke="#000" stroke-width="1.15"/>
<line x1="1090.91" y1="341.01" x2="1087.44" y2="348.77" stroke="#000" stroke-width="1.15"/>
<line x1="1099.26" y1="344.32" x2="1096.48" y2="352.35" stroke="#000" stroke-width="1.15"/>
<line x1="1107.87" y1="346.89" x2="1105.80" y2="355.13" stroke="#000" stroke-width="1.15"/>
<line x1="1116.67" y1="348.70" x2="1115.33" y2="357.09" stroke="#000" stroke-width="1.15"/>
<line x1="1125.60" y1="349.73" x2="1124.99" y2="358.21" stroke="#000" stroke-width="1.15"/>
<line x1="1143.55" y1="349.46" x2="1144.42" y2="357.91" stroke="#000" stroke-width="1.15"/>
<line x1="1152.44" y1="348.15" x2="1154.05" y2="356.50" stroke="#000" stroke-width="1.15"/>
<line x1="1161.18" y1="346.07" x2="1163.51" y2="354.24" stroke="#000" stroke-width="1.15"/>
<line x1="1169.71" y1="343.24" x2="1172.74" y2="351.18" stroke="#000" stroke-width="1.15"/>
<line x1="1177.96" y1="339.67" x2="1181.67" y2="347.32" stroke="#000" stroke-width="1.15"/>
<line x1="1193.37" y1="330.46" x2="1198.35" y2="337.34" stroke="#000" stroke-width="1.15"/>
<line x1="1200.41" y1="324.88" x2="1205.97" y2="331.30" stroke="#000" stroke-width="1.15"/>
<line x1="1206.94" y1="318.70" x2="1213.04" y2="324.62" stroke="#000" stroke-width="1.15"/>
<line x1="1212.91" y1="311.99" x2="1219.50" y2="317.35" stroke="#000" stroke-width="1.15"/>
<line x1="1218.27" y1="304.78" x2="1225.31" y2="309.54" stroke="#000" stroke-width="1.15"/>
<line x1="1227.01" y1="289.09" x2="1234.77" y2="292.56" stroke="#000" stroke-width="1.15"/>
<line x1="1230.32" y1="280.74" x2="1238.35" y2="283.52" stroke="#000" stroke-width="1.15"/>
<line x1="1232.89" y1="272.13" x2="1241.13" y2="274.20" stroke="#000" stroke-width="1.15"/>
<line x1="1234.70" y1="263.33" x2="1243.09" y2="264.67" stroke="#000" stroke-width="1.15"/>
<line x1="1235.73" y1="254.40" x2="1244.21" y2="255.01" stroke="#000" stroke-width="1.15"/>
<line x1="1235.46" y1="236.45" x2="1243.91" y2="235.58" stroke="#000" stroke-width="1.15"/>
<line x1="1234.15" y1="227.56" x2="1242.50" y2="225.95" stroke="#000" stroke-width="1.15"/>
<line x1="1232.07" y1="218.82" x2="1240.24" y2="216.49" stroke="#000" stroke-width="1.15"/>
<line x1="1229.24" y1="210.29" x2="1237.18" y2="207.26" stroke="#000" stroke-width="1.15"/>
<line x1="1225.67" y1="202.04" x2="1233.32" y2="198.33" stroke="#000" stroke-width="1.15"/>
<line x1="1216.46" y1="186.63" x2="1223.34" y2="181.65" stroke="#000" stroke-width="1.15"/>
<line x1="1210.88" y1="179.59" x2="1217.30" y2="174.03" stroke="#000" stroke-width="1.15"/>
<line x1="1204.70" y1="173.06" x2="1210.62" y2="166.96" stroke="#000" stroke-width="1.15"/>
<line x1="1197.99" y1="167.09" x2="1203.35" y2="160.50" stroke="#000" stroke-width="1.15"/>
<line x1="1190.78" y1="161.73" x2="1195.54" y2="154.69" stroke="#000" stroke-width="1.15"/>
<line x1="1175.09" y1="152.99" x2="1178.56" y2="145.23" stroke="#000" stroke-width="1.15"/>
<line x1="1166.74" y1="149.68" x2="1169.52" y2="141.65" stroke="#000" stroke-width="1.15"/>
<line x1="1158.13" y1="147.11" x2="1160.20" y2="138.87" stroke="#000" stroke-width="1.15"/>
<line x1="1149.33" y1="145.30" x2="1150.67" y2="136.91" stroke="#000" stroke-width="1.15"/>
<line x1="1140.40" y1="144.27" x2="1141.01" y2="135.79" stroke="#000" stroke-width="1.15"/>
<line x1="1122.45" y1="144.54" x2="1121.58" y2="136.09" stroke="#000" stroke-width="1.15"/>
<line x1="1113.56" y1="145.85" x2="1111.95" y2="137.50" stroke="#000" stroke-width="1.15"/>
<line x1="1104.82" y1="147.93" x2="1102.49" y2="139.76" stroke="#000" stroke-width="1.15"/>
<line x1="1096.29" y1="150.76" x2="1093.26" y2="142.82" stroke="#000" stroke-width="1.15"/>
<line x1="1088.04" y1="154.33" x2="1084.33" y2="146.68" stroke="#000" stroke-width="1.15"/>
<line x1="1072.63" y1="163.54" x2="1067.65" y2="156.66" stroke="#000" stroke-width="1.15"/>
<line x1="1065.59" y1="169.12" x2="1060.03" y2="162.70" stroke="#000" stroke-width="1.15"/>
<line x1="1059.06" y1="175.30" x2="1052.96" y2="169.38" stroke="#000" stroke-width="1.15"/>
<line x1="1053.09" y1="182.01" x2="1046.50" y2="176.65" stroke="#000" stroke-width="1.15"/>
<line x1="1047.73" y1="189.22" x2="1040.69" y2="184.46" stroke="#000" stroke-width="1.15"/>
<line x1="1038.99" y1="204.91" x2="1031.23" y2="201.44" stroke="#000" stroke-width="1.15"/>
<line x1="1035.68" y1="213.26" x2="1027.65" y2="210.48" stroke="#000" stroke-width="1.15"/>
<line x1="1033.11" y1="221.87" x2="1024.87" y2="219.80" stroke="#000" stroke-width="1.15"/>
<line x1="1031.30" y1="230.67" x2="1022.91" y2="229.33" stroke="#000" stroke-width="1.15"/>
<line x1="1030.27" y1="239.60" x2="1021.79" y2="238.99" stroke="#000" stroke-width="1.15"/>
<use href="#z1" x="1104.67" y="327.30" width="13.00" height="13.00" color="#d01060"/>
<use href="#z2" x="1150.99" y="326.58" width="13.00" height="13.00" color="#7a8090"/>
<use href="#z3" x="1190.75" y="302.81" width="13.00" height="13.00" color="#109010"/>
<use href="#z4" x="1213.30" y="262.33" width="13.00" height="13.00" color="#3838ff"/>
<use href="#z5" x="1212.58" y="216.01" width="13.00" height="13.00" color="#d01060"/>
<use href="#z6" x="1188.81" y="176.25" width="13.00" height="13.00" color="#7a8090"/>
<use href="#z7" x="1148.33" y="153.70" width="13.00" height="13.00" color="#109010"/>
<use href="#z8" x="1102.01" y="154.42" width="13.00" height="13.00" color="#3838ff"/>
<use href="#z9" x="1062.25" y="178.19" width="13.00" height="13.00" color="#d01060"/>
<use href="#z10" x="1039.70" y="218.67" width="13.00" height="13.00" color="#7a8090"/>
<use href="#z11" x="1040.42" y="264.99" width="13.00" height="13.00" color="#109010"/>
<use href="#z12" x="1064.19" y="304.75" width="13.00" height="13.00" color="#3838ff"/>
<circle cx="1057.16" cy="336.75" r="3.7" fill="#ff0000"/>
<circle cx="1131.46" cy="364.49" r="3.7" fill="#ff0000"/>
<circle cx="1218.49" cy="327.61" r="3.7" fill="#ff0000"/>
<circle cx="1240.60" cy="294.21" r="3.7" fill="#ff0000"/>
<circle cx="1208.84" cy="157.25" r="3.7" fill="#ff0000"/>
<circle cx="1134.54" cy="129.51" r="3.7" fill="#ff0000"/>
<circle cx="1047.51" cy="166.39" r="3.7" fill="#ff0000"/>
<circle cx="1025.40" cy="199.79" r="3.7" fill="#ff0000"/>
<line x1="1021.50" y1="247.00" x2="1004.00" y2="247.00" stroke="#006400" stroke-width="2.3"/>
<polygon points="998.00,247.00 1010.00,241.00 1006.40,247.00 1010.00,253.00" fill="#006400"/>
<line x1="1244.50" y1="247.00" x2="1262.00" y2="247.00" stroke="#006400" stroke-width="2.3"/>
<polygon points="1268.00,247.00 1256.00,253.00 1259.60,247.00 1256.00,241.00" fill="#006400"/>
<line x1="1084.24" y1="146.72" x2="1076.59" y2="130.99" stroke="#006400" stroke-width="2.3"/>
<polygon points="1073.97,125.59 1084.61,133.76 1077.64,133.14 1073.82,139.01" fill="#006400"/>
<line x1="1181.76" y1="347.28" x2="1189.41" y2="363.01" stroke="#006400" stroke-width="2.3"/>
<polygon points="1192.03,368.41 1181.39,360.24 1188.36,360.86 1192.18,354.99" fill="#006400"/>
<line x1="1089.69" y1="193.29" x2="1086.55" y2="189.39" stroke="#006400" stroke-width="1"/>
<line x1="1072.72" y1="213.42" x2="1068.35" y2="210.99" stroke="#c8c800" stroke-width="1"/>
<line x1="1064.02" y1="248.54" x2="1059.02" y2="248.65" stroke="#3a003a" stroke-width="1"/>
<line x1="1066.90" y1="266.80" x2="1062.11" y2="268.24" stroke="#ff00ff" stroke-width="1"/>
<line x1="1083.94" y1="295.52" x2="1080.38" y2="299.03" stroke="#8b4a00" stroke-width="1"/>
<line x1="1095.50" y1="304.92" x2="1092.78" y2="309.12" stroke="#8000ff" stroke-width="1"/>
<line x1="1161.81" y1="309.70" x2="1163.90" y2="314.24" stroke="#0000ff" stroke-width="1"/>
<line x1="1181.30" y1="296.27" x2="1184.80" y2="299.84" stroke="#ff6600" stroke-width="1"/>
<line x1="1201.72" y1="240.83" x2="1206.70" y2="240.38" stroke="#ff0000" stroke-width="1"/>
<line x1="1183.07" y1="199.52" x2="1186.70" y2="196.08" stroke="#666" stroke-width="1"/>
<line x1="1201.72" y1="240.83" x2="1064.02" y2="248.54" stroke="#ff0a60" stroke-width="2.1" stroke-dasharray="10.5 10.5"/>
<line x1="1083.94" y1="295.52" x2="1183.07" y2="199.52" stroke="#ff0a60" stroke-width="2.1" stroke-dasharray="10.5 10.5"/>
<line x1="1181.30" y1="296.27" x2="1089.69" y2="193.29" stroke="#ff0a60" stroke-width="2.1" stroke-dasharray="10.5 10.5"/>
<line x1="1089.69" y1="193.29" x2="1183.07" y2="199.52" stroke="#ff0a60" stroke-width="2.2" stroke-dasharray="3.4 2.2"/>
<line x1="1183.07" y1="199.52" x2="1181.30" y2="296.27" stroke="#ff0a60" stroke-width="2.2" stroke-dasharray="3.4 2.2"/>
<line x1="1181.30" y1="296.27" x2="1083.94" y2="295.52" stroke="#ff0a60" stroke-width="2.2" stroke-dasharray="3.4 2.2"/>
<line x1="1089.69" y1="193.29" x2="1083.94" y2="295.52" stroke="#ff0a60" stroke-width="2.2" stroke-dasharray="3.4 2.2"/>
<line x1="1072.72" y1="213.42" x2="1095.50" y2="304.92" stroke="#ff0a60" stroke-width="2.2" stroke-dasharray="3.4 2.2"/>
<line x1="1072.72" y1="213.42" x2="1066.90" y2="266.80" stroke="#ff0000" stroke-width="2.4" stroke-dasharray="3.2 3"/>
<line x1="1064.02" y1="248.54" x2="1083.94" y2="295.52" stroke="#ff0000" stroke-width="2.4" stroke-dasharray="3.2 3"/>
<line x1="1089.69" y1="193.29" x2="1201.72" y2="240.83" stroke="#0000ff" stroke-width="2.2" stroke-linecap="round"/>
<line x1="1201.72" y1="240.83" x2="1095.50" y2="304.92" stroke="#0000ff" stroke-width="2.2" stroke-linecap="round"/>
<line x1="1064.02" y1="248.54" x2="1095.50" y2="304.92" stroke="#0000ff" stroke-width="2.2" stroke-linecap="round"/>
<line x1="1064.02" y1="248.54" x2="1161.81" y2="309.70" stroke="#0000ff" stroke-width="2.2" stroke-linecap="round"/>
<line x1="1066.90" y1="266.80" x2="1181.30" y2="296.27" stroke="#0000ff" stroke-width="2.2" stroke-linecap="round"/>
<line x1="1095.50" y1="304.92" x2="1161.81" y2="309.70" stroke="#0000ff" stroke-width="2.2" stroke-linecap="round"/>
<circle cx="1132.70" cy="247.30" r="13" fill="#fff"/>
<g transform="translate(1132.70 247.30) scale(1.000)" fill="#5a0a00">
<circle cx="0" cy="-9.8" r="2.4"/>
<path d="M-3.6 -6.8 H3.6 L5.6 3 H4.2 L2.6 -2.5 V12 H0.6 V2 H-0.6 V12 H-2.6 V-2.5 L-4.2 3 H-5.6 Z"/>
</g>
<use href="#snode" x="1194.15" y="103.65" width="15.20" height="15.20" color="#000"/>
<line x1="1193.75" y1="128.75" x2="1183.75" y2="148.75" stroke="#000" stroke-width="1"/>
<text transform="translate(1212.50 94.94) scale(0.9 1)" font-size="8.2" text-anchor="middle">02°R</text>
<use href="#moon" x="1234.25" y="134.25" width="14.00" height="14.00" color="#787888"/>
<line x1="1228.75" y1="155.00" x2="1213.75" y2="170.00" stroke="#666" stroke-width="1"/>
<text transform="translate(1258.75 129.19) scale(0.9 1)" font-size="8.2" text-anchor="middle">13°</text>
<use href="#mercury" x="1029.23" y="121.73" width="14.04" height="14.04" color="#006400"/>
<line x1="1049.50" y1="145.50" x2="1062.00" y2="161.75" stroke="#006400" stroke-width="1"/>
<text transform="translate(1022.50 116.19) scale(0.9 1)" font-size="8.2" text-anchor="middle">08°</text>
<use href="#sun" x="993.25" y="164.25" width="15.00" height="15.00" color="#c8c800"/>
<line x1="1017.50" y1="183.00" x2="1035.00" y2="191.25" stroke="#c8c800" stroke-width="1"/>
<text transform="translate(981.25 164.94) scale(0.9 1)" font-size="8.2" text-anchor="middle">00°</text>
<use href="#mars" x="1275.00" y="223.75" width="15.00" height="15.00" color="#ff0000"/>
<line x1="1244.50" y1="236.75" x2="1266.25" y2="233.75" stroke="#ff0000" stroke-width="1"/>
<text transform="translate(1306.25 233.44) scale(0.9 1)" font-size="8.2" text-anchor="middle">04°R</text>
<use href="#pluto" x="973.75" y="242.50" width="15.00" height="15.00" color="#3a003a"/>
<line x1="1000.00" y1="251.25" x2="1021.25" y2="250.00" stroke="#3a003a" stroke-width="1"/>
<text transform="translate(959.50 254.94) scale(0.9 1)" font-size="8.2" text-anchor="middle">00°</text>
<use href="#venus" x="981.73" y="282.48" width="14.04" height="14.04" color="#ff00ff"/>
<line x1="1006.25" y1="286.25" x2="1027.50" y2="280.50" stroke="#ff00ff" stroke-width="1"/>
<text transform="translate(967.50 300.94) scale(0.9 1)" font-size="8.2" text-anchor="middle">16°</text>
<use href="#saturn" x="1018.75" y="345.00" width="15.00" height="15.00" color="#8b4a00"/>
<line x1="1039.50" y1="340.50" x2="1053.75" y2="326.25" stroke="#8b4a00" stroke-width="1"/>
<text transform="translate(1010.00 372.19) scale(0.9 1)" font-size="8.2" text-anchor="middle">13°</text>
<use href="#neptune" x="1043.17" y="365.68" width="13.65" height="13.65" color="#8000ff"/>
<line x1="1061.75" y1="358.75" x2="1075.00" y2="343.00" stroke="#8000ff" stroke-width="1"/>
<text transform="translate(1038.25 396.19) scale(0.9 1)" font-size="8.2" text-anchor="middle">27°</text>
<use href="#nnode" x="1058.65" y="372.90" width="15.20" height="15.20" color="#000"/>
<line x1="1073.75" y1="366.25" x2="1082.50" y2="347.50" stroke="#000" stroke-width="1"/>
<text transform="translate(1056.25 405.94) scale(0.9 1)" font-size="8.2" text-anchor="middle">02°R</text>
<use href="#uranus" x="1188.92" y="375.18" width="13.65" height="13.65" color="#0000ff"/>
<line x1="1181.25" y1="349.50" x2="1190.00" y2="368.00" stroke="#0000ff" stroke-width="1"/>
<text transform="translate(1206.25 407.94) scale(0.9 1)" font-size="8.2" text-anchor="middle">23°R</text>
<use href="#jupiter" x="1230.75" y="343.25" width="16.00" height="16.00" color="#ff6600"/>
<line x1="1227.50" y1="340.50" x2="1214.50" y2="328.00" stroke="#ff6600" stroke-width="1"/>
<text transform="translate(1257.50 372.19) scale(0.9 1)" font-size="8.2" text-anchor="middle">14°R</text>
<circle cx="437.00" cy="656.00" r="111.50" fill="none" stroke="#000" stroke-width="1.15"/>
<circle cx="437.00" cy="656.00" r="73.50" fill="none" stroke="#000" stroke-width="1.15"/>
<line x1="510.50" y1="656.50" x2="548.50" y2="656.50" stroke="#000" stroke-width="1.15"/>
<line x1="500.65" y1="619.25" x2="533.56" y2="600.25" stroke="#000" stroke-width="1.15"/>
<line x1="473.75" y1="592.35" x2="492.75" y2="559.44" stroke="#000" stroke-width="1.15"/>
<line x1="437.50" y1="582.50" x2="437.50" y2="544.50" stroke="#000" stroke-width="1.15"/>
<line x1="400.25" y1="592.35" x2="381.25" y2="559.44" stroke="#000" stroke-width="1.15"/>
<line x1="373.35" y1="619.25" x2="340.44" y2="600.25" stroke="#000" stroke-width="1.15"/>
<line x1="363.50" y1="656.50" x2="325.50" y2="656.50" stroke="#000" stroke-width="1.15"/>
<line x1="373.35" y1="692.75" x2="340.44" y2="711.75" stroke="#000" stroke-width="1.15"/>
<line x1="400.25" y1="719.65" x2="381.25" y2="752.56" stroke="#000" stroke-width="1.15"/>
<line x1="437.50" y1="729.50" x2="437.50" y2="767.50" stroke="#000" stroke-width="1.15"/>
<line x1="473.75" y1="719.65" x2="492.75" y2="752.56" stroke="#000" stroke-width="1.15"/>
<line x1="500.65" y1="692.75" x2="533.56" y2="711.75" stroke="#000" stroke-width="1.15"/>
<line x1="539.61" y1="647.02" x2="548.08" y2="646.28" stroke="#000" stroke-width="1.15"/>
<line x1="538.44" y1="638.11" x2="546.81" y2="636.64" stroke="#000" stroke-width="1.15"/>
<line x1="536.49" y1="629.34" x2="544.70" y2="627.14" stroke="#000" stroke-width="1.15"/>
<line x1="533.79" y1="620.77" x2="541.78" y2="617.86" stroke="#000" stroke-width="1.15"/>
<line x1="530.35" y1="612.47" x2="538.05" y2="608.88" stroke="#000" stroke-width="1.15"/>
<line x1="521.37" y1="596.92" x2="528.34" y2="592.05" stroke="#000" stroke-width="1.15"/>
<line x1="515.90" y1="589.79" x2="522.41" y2="584.33" stroke="#000" stroke-width="1.15"/>
<line x1="509.83" y1="583.17" x2="515.84" y2="577.16" stroke="#000" stroke-width="1.15"/>
<line x1="503.21" y1="577.10" x2="508.67" y2="570.59" stroke="#000" stroke-width="1.15"/>
<line x1="496.08" y1="571.63" x2="500.95" y2="564.66" stroke="#000" stroke-width="1.15"/>
<line x1="480.53" y1="562.65" x2="484.12" y2="554.95" stroke="#000" stroke-width="1.15"/>
<line x1="472.23" y1="559.21" x2="475.14" y2="551.22" stroke="#000" stroke-width="1.15"/>
<line x1="463.66" y1="556.51" x2="465.86" y2="548.30" stroke="#000" stroke-width="1.15"/>
<line x1="454.89" y1="554.56" x2="456.36" y2="546.19" stroke="#000" stroke-width="1.15"/>
<line x1="445.98" y1="553.39" x2="446.72" y2="544.92" stroke="#000" stroke-width="1.15"/>
<line x1="428.02" y1="553.39" x2="427.28" y2="544.92" stroke="#000" stroke-width="1.15"/>
<line x1="419.11" y1="554.56" x2="417.64" y2="546.19" stroke="#000" stroke-width="1.15"/>
<line x1="410.34" y1="556.51" x2="408.14" y2="548.30" stroke="#000" stroke-width="1.15"/>
<line x1="401.77" y1="559.21" x2="398.86" y2="551.22" stroke="#000" stroke-width="1.15"/>
<line x1="393.47" y1="562.65" x2="389.88" y2="554.95" stroke="#000" stroke-width="1.15"/>
<line x1="377.92" y1="571.63" x2="373.05" y2="564.66" stroke="#000" stroke-width="1.15"/>
<line x1="370.79" y1="577.10" x2="365.33" y2="570.59" stroke="#000" stroke-width="1.15"/>
<line x1="364.17" y1="583.17" x2="358.16" y2="577.16" stroke="#000" stroke-width="1.15"/>
<line x1="358.10" y1="589.79" x2="351.59" y2="584.33" stroke="#000" stroke-width="1.15"/>
<line x1="352.63" y1="596.92" x2="345.66" y2="592.05" stroke="#000" stroke-width="1.15"/>
<line x1="343.65" y1="612.47" x2="335.95" y2="608.88" stroke="#000" stroke-width="1.15"/>
<line x1="340.21" y1="620.77" x2="332.22" y2="617.86" stroke="#000" stroke-width="1.15"/>
<line x1="337.51" y1="629.34" x2="329.30" y2="627.14" stroke="#000" stroke-width="1.15"/>
<line x1="335.56" y1="638.11" x2="327.19" y2="636.64" stroke="#000" stroke-width="1.15"/>
<line x1="334.39" y1="647.02" x2="325.92" y2="646.28" stroke="#000" stroke-width="1.15"/>
<line x1="334.39" y1="664.98" x2="325.92" y2="665.72" stroke="#000" stroke-width="1.15"/>
<line x1="335.56" y1="673.89" x2="327.19" y2="675.36" stroke="#000" stroke-width="1.15"/>
<line x1="337.51" y1="682.66" x2="329.30" y2="684.86" stroke="#000" stroke-width="1.15"/>
<line x1="340.21" y1="691.23" x2="332.22" y2="694.14" stroke="#000" stroke-width="1.15"/>
<line x1="343.65" y1="699.53" x2="335.95" y2="703.12" stroke="#000" stroke-width="1.15"/>
<line x1="352.63" y1="715.08" x2="345.66" y2="719.95" stroke="#000" stroke-width="1.15"/>
<line x1="358.10" y1="722.21" x2="351.59" y2="727.67" stroke="#000" stroke-width="1.15"/>
<line x1="364.17" y1="728.83" x2="358.16" y2="734.84" stroke="#000" stroke-width="1.15"/>
<line x1="370.79" y1="734.90" x2="365.33" y2="741.41" stroke="#000" stroke-width="1.15"/>
<line x1="377.92" y1="740.37" x2="373.05" y2="747.34" stroke="#000" stroke-width="1.15"/>
<line x1="393.47" y1="749.35" x2="389.88" y2="757.05" stroke="#000" stroke-width="1.15"/>
<line x1="401.77" y1="752.79" x2="398.86" y2="760.78" stroke="#000" stroke-width="1.15"/>
<line x1="410.34" y1="755.49" x2="408.14" y2="763.70" stroke="#000" stroke-width="1.15"/>
<line x1="419.11" y1="757.44" x2="417.64" y2="765.81" stroke="#000" stroke-width="1.15"/>
<line x1="428.02" y1="758.61" x2="427.28" y2="767.08" stroke="#000" stroke-width="1.15"/>
<line x1="445.98" y1="758.61" x2="446.72" y2="767.08" stroke="#000" stroke-width="1.15"/>
<line x1="454.89" y1="757.44" x2="456.36" y2="765.81" stroke="#000" stroke-width="1.15"/>
<line x1="463.66" y1="755.49" x2="465.86" y2="763.70" stroke="#000" stroke-width="1.15"/>
<line x1="472.23" y1="752.79" x2="475.14" y2="760.78" stroke="#000" stroke-width="1.15"/>
<line x1="480.53" y1="749.35" x2="484.12" y2="757.05" stroke="#000" stroke-width="1.15"/>
<line x1="496.08" y1="740.37" x2="500.95" y2="747.34" stroke="#000" stroke-width="1.15"/>
<line x1="503.21" y1="734.90" x2="508.67" y2="741.41" stroke="#000" stroke-width="1.15"/>
<line x1="509.83" y1="728.83" x2="515.84" y2="734.84" stroke="#000" stroke-width="1.15"/>
<line x1="515.90" y1="722.21" x2="522.41" y2="727.67" stroke="#000" stroke-width="1.15"/>
<line x1="521.37" y1="715.08" x2="528.34" y2="719.95" stroke="#000" stroke-width="1.15"/>
<line x1="530.35" y1="699.53" x2="538.05" y2="703.12" stroke="#000" stroke-width="1.15"/>
<line x1="533.79" y1="691.23" x2="541.78" y2="694.14" stroke="#000" stroke-width="1.15"/>
<line x1="536.49" y1="682.66" x2="544.70" y2="684.86" stroke="#000" stroke-width="1.15"/>
<line x1="538.44" y1="673.89" x2="546.81" y2="675.36" stroke="#000" stroke-width="1.15"/>
<line x1="539.61" y1="664.98" x2="548.08" y2="665.72" stroke="#000" stroke-width="1.15"/>
<text transform="translate(414.50 572.90) scale(0.95 1)" font-size="9.5" text-anchor="middle">10</text>
<text transform="translate(460.00 572.90) scale(0.95 1)" font-size="9.5" text-anchor="middle">9</text>
<text transform="translate(373.75 595.90) scale(0.95 1)" font-size="9.5" text-anchor="middle">11</text>
<text transform="translate(500.00 595.90) scale(0.95 1)" font-size="9.5" text-anchor="middle">8</text>
<text transform="translate(351.25 635.90) scale(0.95 1)" font-size="9.5" text-anchor="middle">12</text>
<text transform="translate(523.25 635.90) scale(0.95 1)" font-size="9.5" text-anchor="middle">7</text>
<text transform="translate(351.25 682.15) scale(0.95 1)" font-size="9.5" text-anchor="middle">1</text>
<text transform="translate(523.25 682.15) scale(0.95 1)" font-size="9.5" text-anchor="middle">6</text>
<text transform="translate(374.50 721.65) scale(0.95 1)" font-size="9.5" text-anchor="middle">2</text>
<text transform="translate(500.00 721.65) scale(0.95 1)" font-size="9.5" text-anchor="middle">5</text>
<text transform="translate(414.25 745.15) scale(0.95 1)" font-size="9.5" text-anchor="middle">3</text>
<text transform="translate(460.00 745.15) scale(0.95 1)" font-size="9.5" text-anchor="middle">4</text>
<line x1="417.98" y1="589.67" x2="416.60" y2="584.87" stroke="#006400" stroke-width="1"/>
<line x1="397.42" y1="599.48" x2="394.56" y2="595.38" stroke="#c8c800" stroke-width="1"/>
<line x1="376.65" y1="622.55" x2="372.28" y2="620.12" stroke="#3a003a" stroke-width="1"/>
<line x1="370.35" y1="638.14" x2="365.52" y2="636.85" stroke="#ff00ff" stroke-width="1"/>
<line x1="504.73" y1="642.83" x2="509.64" y2="641.88" stroke="#666" stroke-width="1"/>
<line x1="369.27" y1="669.17" x2="364.36" y2="670.12" stroke="#8b4a00" stroke-width="1"/>
<line x1="374.46" y1="685.16" x2="369.93" y2="687.27" stroke="#8000ff" stroke-width="1"/>
<line x1="435.80" y1="724.99" x2="435.71" y2="729.99" stroke="#0000ff" stroke-width="1"/>
<line x1="461.73" y1="720.42" x2="463.52" y2="725.08" stroke="#ff6600" stroke-width="1"/>
<line x1="499.02" y1="686.25" x2="503.51" y2="688.44" stroke="#ff0000" stroke-width="1"/>
<line x1="417.98" y1="589.67" x2="461.73" y2="720.42" stroke="#ff0a60" stroke-width="2.1" stroke-dasharray="10.5 10.5"/>
<line x1="376.65" y1="622.55" x2="499.02" y2="686.25" stroke="#ff0a60" stroke-width="2.1" stroke-dasharray="10.5 10.5"/>
<line x1="369.27" y1="669.17" x2="504.73" y2="642.83" stroke="#ff0a60" stroke-width="2.1" stroke-dasharray="10.5 10.5"/>
<line x1="417.98" y1="589.67" x2="504.73" y2="642.83" stroke="#ff0a60" stroke-width="2.2" stroke-dasharray="3.4 2.2"/>
<line x1="417.98" y1="589.67" x2="369.27" y2="669.17" stroke="#ff0a60" stroke-width="2.2" stroke-dasharray="3.4 2.2"/>
<line x1="374.46" y1="685.16" x2="461.73" y2="720.42" stroke="#ff0a60" stroke-width="2.2" stroke-dasharray="3.4 2.2"/>
<line x1="376.65" y1="622.55" x2="417.98" y2="589.67" stroke="#ff0000" stroke-width="2.4" stroke-dasharray="3.2 3"/>
<line x1="461.73" y1="720.42" x2="499.02" y2="686.25" stroke="#ff0000" stroke-width="2.4" stroke-dasharray="3.2 3"/>
<line x1="417.98" y1="589.67" x2="370.35" y2="638.14" stroke="#0000ff" stroke-width="2.2" stroke-linecap="round"/>
<line x1="370.35" y1="638.14" x2="461.73" y2="720.42" stroke="#0000ff" stroke-width="2.2" stroke-linecap="round"/>
<line x1="397.42" y1="599.48" x2="504.73" y2="642.83" stroke="#0000ff" stroke-width="2.2" stroke-linecap="round"/>
<line x1="376.65" y1="622.55" x2="435.80" y2="724.99" stroke="#0000ff" stroke-width="2.2" stroke-linecap="round"/>
<rect x="428.4" y="626.7" width="14" height="14" fill="#fff"/>
<text x="435.40" y="637.28" font-size="10" text-anchor="middle">S</text>
<rect x="405.3" y="649.4" width="14" height="14" fill="#fff"/>
<text x="412.30" y="659.98" font-size="10" text-anchor="middle">E</text>
<rect x="450.8" y="649.4" width="14" height="14" fill="#fff"/>
<text x="457.80" y="659.98" font-size="10" text-anchor="middle">O</text>
<rect x="428.4" y="670.8" width="14" height="14" fill="#fff"/>
<text x="435.40" y="681.38" font-size="10" text-anchor="middle">N</text>
<circle cx="435.40" cy="654.10" r="15" fill="#fff"/>
<g transform="translate(435.40 654.10)">
<path d="M0 -14.5 L3 -3 L14.5 0 L3 3 L0 14.5 L-3 3 L-14.5 0 L-3 -3 Z" fill="#000"/>
<path d="M0.8 -10 L1.6 -1.6 L10 0.8 L0.8 1.2 Z M-0.8 10 L-1.6 1.6 L-10 -0.8 L-0.8 -1.2 Z" fill="#fff" opacity="0.85"/>
</g>
<use href="#mercury" x="389.94" y="501.69" width="15.12" height="15.12" color="#006400"/>
<line x1="402.50" y1="528.00" x2="409.50" y2="548.75" stroke="#006400" stroke-width="1"/>
<text transform="translate(392.50 490.94) scale(0.9 1)" font-size="8.2" text-anchor="middle">164°</text>
<use href="#sun" x="342.75" y="522.75" width="16.00" height="16.00" color="#c8c800"/>
<line x1="361.25" y1="547.00" x2="373.75" y2="563.75" stroke="#c8c800" stroke-width="1"/>
<text transform="translate(337.50 515.94) scale(0.9 1)" font-size="8.2" text-anchor="middle">145°</text>
<use href="#pluto" x="297.00" y="573.75" width="15.00" height="15.00" color="#3a003a"/>
<line x1="321.25" y1="591.25" x2="340.00" y2="601.25" stroke="#3a003a" stroke-width="1"/>
<text transform="translate(285.50 574.19) scale(0.9 1)" font-size="8.2" text-anchor="middle">119°</text>
<use href="#venus" x="283.69" y="606.94" width="15.12" height="15.12" color="#ff00ff"/>
<line x1="308.75" y1="621.25" x2="330.50" y2="626.25" stroke="#ff00ff" stroke-width="1"/>
<text transform="translate(269.50 612.94) scale(0.9 1)" font-size="8.2" text-anchor="middle">105°</text>
<use href="#moon" x="578.50" y="621.00" width="14.00" height="14.00" color="#787888"/>
<line x1="547.00" y1="636.25" x2="568.75" y2="632.50" stroke="#666" stroke-width="1"/>
<text transform="translate(608.25 628.44) scale(0.9 1)" font-size="8.2" text-anchor="middle">259°</text>
<use href="#saturn" x="281.50" y="674.00" width="17.00" height="17.00" color="#8b4a00"/>
<line x1="306.25" y1="681.25" x2="328.00" y2="677.00" stroke="#8b4a00" stroke-width="1"/>
<text transform="translate(266.25 690.94) scale(0.9 1)" font-size="8.2" text-anchor="middle">79°</text>
<use href="#neptune" x="292.65" y="710.65" width="14.70" height="14.70" color="#8000ff"/>
<line x1="316.25" y1="712.50" x2="336.25" y2="702.50" stroke="#8000ff" stroke-width="1"/>
<text transform="translate(279.25 732.19) scale(0.9 1)" font-size="8.2" text-anchor="middle">65°</text>
<use href="#uranus" x="426.40" y="798.15" width="14.70" height="14.70" color="#0000ff"/>
<line x1="435.00" y1="789.50" x2="435.75" y2="768.00" stroke="#0000ff" stroke-width="1"/>
<text transform="translate(433.75 832.94) scale(0.9 1)" font-size="8.2" text-anchor="middle">1°</text>
<use href="#jupiter" x="481.25" y="789.00" width="16.00" height="16.00" color="#ff6600"/>
<line x1="484.50" y1="781.25" x2="476.25" y2="761.25" stroke="#ff6600" stroke-width="1"/>
<text transform="translate(498.25 822.19) scale(0.9 1)" font-size="8.2" text-anchor="middle">339°</text>
<use href="#mars" x="565.00" y="713.75" width="15.00" height="15.00" color="#ff0000"/>
<line x1="556.25" y1="714.50" x2="538.75" y2="705.50" stroke="#ff0000" stroke-width="1"/>
<text transform="translate(593.25 734.69) scale(0.9 1)" font-size="8.2" text-anchor="middle">296°</text>
<circle cx="1133.00" cy="656.00" r="111.50" fill="none" stroke="#000" stroke-width="1.15"/>
<circle cx="1133.00" cy="656.00" r="73.50" fill="none" stroke="#000" stroke-width="1.15"/>
<line x1="1206.50" y1="656.50" x2="1220.00" y2="656.50" stroke="#000" stroke-width="1.15"/>
<line x1="1231.50" y1="656.50" x2="1244.50" y2="656.50" stroke="#000" stroke-width="1.15"/>
<text transform="translate(1225.50 658.94) scale(0.9 1)" font-size="8.2" text-anchor="middle">0h</text>
<line x1="1233.62" y1="647.20" x2="1244.08" y2="646.28" stroke="#000" stroke-width="1.15"/>
<line x1="1232.47" y1="638.46" x2="1242.81" y2="636.64" stroke="#000" stroke-width="1.15"/>
<line x1="1230.56" y1="629.86" x2="1240.70" y2="627.14" stroke="#000" stroke-width="1.15"/>
<line x1="1227.91" y1="621.46" x2="1237.78" y2="617.86" stroke="#000" stroke-width="1.15"/>
<line x1="1224.54" y1="613.32" x2="1234.05" y2="608.88" stroke="#000" stroke-width="1.15"/>
<line x1="1196.65" y1="619.25" x2="1208.34" y2="612.50" stroke="#000" stroke-width="1.15"/>
<line x1="1218.30" y1="606.75" x2="1229.56" y2="600.25" stroke="#000" stroke-width="1.15"/>
<text transform="translate(1213.11 612.69) scale(0.9 1)" font-size="8.2" text-anchor="middle">2h</text>
<line x1="1215.73" y1="598.07" x2="1224.34" y2="592.05" stroke="#000" stroke-width="1.15"/>
<line x1="1210.37" y1="591.08" x2="1218.41" y2="584.33" stroke="#000" stroke-width="1.15"/>
<line x1="1204.42" y1="584.58" x2="1211.84" y2="577.16" stroke="#000" stroke-width="1.15"/>
<line x1="1197.92" y1="578.63" x2="1204.67" y2="570.59" stroke="#000" stroke-width="1.15"/>
<line x1="1190.93" y1="573.27" x2="1196.95" y2="564.66" stroke="#000" stroke-width="1.15"/>
<line x1="1169.75" y1="592.35" x2="1176.50" y2="580.66" stroke="#000" stroke-width="1.15"/>
<line x1="1182.25" y1="570.70" x2="1188.75" y2="559.44" stroke="#000" stroke-width="1.15"/>
<text transform="translate(1179.25 578.83) scale(0.9 1)" font-size="8.2" text-anchor="middle">4h</text>
<line x1="1175.68" y1="564.46" x2="1180.12" y2="554.95" stroke="#000" stroke-width="1.15"/>
<line x1="1167.54" y1="561.09" x2="1171.14" y2="551.22" stroke="#000" stroke-width="1.15"/>
<line x1="1159.14" y1="558.44" x2="1161.86" y2="548.30" stroke="#000" stroke-width="1.15"/>
<line x1="1150.54" y1="556.53" x2="1152.36" y2="546.19" stroke="#000" stroke-width="1.15"/>
<line x1="1141.80" y1="555.38" x2="1142.72" y2="544.92" stroke="#000" stroke-width="1.15"/>
<line x1="1133.50" y1="582.50" x2="1133.50" y2="569.00" stroke="#000" stroke-width="1.15"/>
<line x1="1133.50" y1="557.50" x2="1133.50" y2="544.50" stroke="#000" stroke-width="1.15"/>
<text transform="translate(1133.00 566.44) scale(0.9 1)" font-size="8.2" text-anchor="middle">6h</text>
<line x1="1124.20" y1="555.38" x2="1123.28" y2="544.92" stroke="#000" stroke-width="1.15"/>
<line x1="1115.46" y1="556.53" x2="1113.64" y2="546.19" stroke="#000" stroke-width="1.15"/>
<line x1="1106.86" y1="558.44" x2="1104.14" y2="548.30" stroke="#000" stroke-width="1.15"/>
<line x1="1098.46" y1="561.09" x2="1094.86" y2="551.22" stroke="#000" stroke-width="1.15"/>
<line x1="1090.32" y1="564.46" x2="1085.88" y2="554.95" stroke="#000" stroke-width="1.15"/>
<line x1="1096.25" y1="592.35" x2="1089.50" y2="580.66" stroke="#000" stroke-width="1.15"/>
<line x1="1083.75" y1="570.70" x2="1077.25" y2="559.44" stroke="#000" stroke-width="1.15"/>
<text transform="translate(1086.75 578.83) scale(0.9 1)" font-size="8.2" text-anchor="middle">8h</text>
<line x1="1075.07" y1="573.27" x2="1069.05" y2="564.66" stroke="#000" stroke-width="1.15"/>
<line x1="1068.08" y1="578.63" x2="1061.33" y2="570.59" stroke="#000" stroke-width="1.15"/>
<line x1="1061.58" y1="584.58" x2="1054.16" y2="577.16" stroke="#000" stroke-width="1.15"/>
<line x1="1055.63" y1="591.08" x2="1047.59" y2="584.33" stroke="#000" stroke-width="1.15"/>
<line x1="1050.27" y1="598.07" x2="1041.66" y2="592.05" stroke="#000" stroke-width="1.15"/>
<line x1="1069.35" y1="619.25" x2="1057.66" y2="612.50" stroke="#000" stroke-width="1.15"/>
<line x1="1047.70" y1="606.75" x2="1036.44" y2="600.25" stroke="#000" stroke-width="1.15"/>
<text transform="translate(1052.89 612.69) scale(0.9 1)" font-size="8.2" text-anchor="middle">10h</text>
<line x1="1041.46" y1="613.32" x2="1031.95" y2="608.88" stroke="#000" stroke-width="1.15"/>
<line x1="1038.09" y1="621.46" x2="1028.22" y2="617.86" stroke="#000" stroke-width="1.15"/>
<line x1="1035.44" y1="629.86" x2="1025.30" y2="627.14" stroke="#000" stroke-width="1.15"/>
<line x1="1033.53" y1="638.46" x2="1023.19" y2="636.64" stroke="#000" stroke-width="1.15"/>
<line x1="1032.38" y1="647.20" x2="1021.92" y2="646.28" stroke="#000" stroke-width="1.15"/>
<line x1="1059.50" y1="656.50" x2="1046.00" y2="656.50" stroke="#000" stroke-width="1.15"/>
<line x1="1034.50" y1="656.50" x2="1021.50" y2="656.50" stroke="#000" stroke-width="1.15"/>
<text transform="translate(1040.50 658.94) scale(0.9 1)" font-size="8.2" text-anchor="middle">12h</text>
<line x1="1032.38" y1="664.80" x2="1021.92" y2="665.72" stroke="#000" stroke-width="1.15"/>
<line x1="1033.53" y1="673.54" x2="1023.19" y2="675.36" stroke="#000" stroke-width="1.15"/>
<line x1="1035.44" y1="682.14" x2="1025.30" y2="684.86" stroke="#000" stroke-width="1.15"/>
<line x1="1038.09" y1="690.54" x2="1028.22" y2="694.14" stroke="#000" stroke-width="1.15"/>
<line x1="1041.46" y1="698.68" x2="1031.95" y2="703.12" stroke="#000" stroke-width="1.15"/>
<line x1="1069.35" y1="692.75" x2="1057.66" y2="699.50" stroke="#000" stroke-width="1.15"/>
<line x1="1047.70" y1="705.25" x2="1036.44" y2="711.75" stroke="#000" stroke-width="1.15"/>
<text transform="translate(1052.89 705.19) scale(0.9 1)" font-size="8.2" text-anchor="middle">14h</text>
<line x1="1050.27" y1="713.93" x2="1041.66" y2="719.95" stroke="#000" stroke-width="1.15"/>
<line x1="1055.63" y1="720.92" x2="1047.59" y2="727.67" stroke="#000" stroke-width="1.15"/>
<line x1="1061.58" y1="727.42" x2="1054.16" y2="734.84" stroke="#000" stroke-width="1.15"/>
<line x1="1068.08" y1="733.37" x2="1061.33" y2="741.41" stroke="#000" stroke-width="1.15"/>
<line x1="1075.07" y1="738.73" x2="1069.05" y2="747.34" stroke="#000" stroke-width="1.15"/>
<line x1="1096.25" y1="719.65" x2="1089.50" y2="731.34" stroke="#000" stroke-width="1.15"/>
<line x1="1083.75" y1="741.30" x2="1077.25" y2="752.56" stroke="#000" stroke-width="1.15"/>
<text transform="translate(1086.75 739.04) scale(0.9 1)" font-size="8.2" text-anchor="middle">16h</text>
<line x1="1090.32" y1="747.54" x2="1085.88" y2="757.05" stroke="#000" stroke-width="1.15"/>
<line x1="1098.46" y1="750.91" x2="1094.86" y2="760.78" stroke="#000" stroke-width="1.15"/>
<line x1="1106.86" y1="753.56" x2="1104.14" y2="763.70" stroke="#000" stroke-width="1.15"/>
<line x1="1115.46" y1="755.47" x2="1113.64" y2="765.81" stroke="#000" stroke-width="1.15"/>
<line x1="1124.20" y1="756.62" x2="1123.28" y2="767.08" stroke="#000" stroke-width="1.15"/>
<line x1="1133.50" y1="729.50" x2="1133.50" y2="743.00" stroke="#000" stroke-width="1.15"/>
<line x1="1133.50" y1="754.50" x2="1133.50" y2="767.50" stroke="#000" stroke-width="1.15"/>
<text transform="translate(1133.00 751.44) scale(0.9 1)" font-size="8.2" text-anchor="middle">18h</text>
<line x1="1141.80" y1="756.62" x2="1142.72" y2="767.08" stroke="#000" stroke-width="1.15"/>
<line x1="1150.54" y1="755.47" x2="1152.36" y2="765.81" stroke="#000" stroke-width="1.15"/>
<line x1="1159.14" y1="753.56" x2="1161.86" y2="763.70" stroke="#000" stroke-width="1.15"/>
<line x1="1167.54" y1="750.91" x2="1171.14" y2="760.78" stroke="#000" stroke-width="1.15"/>
<line x1="1175.68" y1="747.54" x2="1180.12" y2="757.05" stroke="#000" stroke-width="1.15"/>
<line x1="1169.75" y1="719.65" x2="1176.50" y2="731.34" stroke="#000" stroke-width="1.15"/>
<line x1="1182.25" y1="741.30" x2="1188.75" y2="752.56" stroke="#000" stroke-width="1.15"/>
<text transform="translate(1179.25 739.04) scale(0.9 1)" font-size="8.2" text-anchor="middle">20h</text>
<line x1="1190.93" y1="738.73" x2="1196.95" y2="747.34" stroke="#000" stroke-width="1.15"/>
<line x1="1197.92" y1="733.37" x2="1204.67" y2="741.41" stroke="#000" stroke-width="1.15"/>
<line x1="1204.42" y1="727.42" x2="1211.84" y2="734.84" stroke="#000" stroke-width="1.15"/>
<line x1="1210.37" y1="720.92" x2="1218.41" y2="727.67" stroke="#000" stroke-width="1.15"/>
<line x1="1215.73" y1="713.93" x2="1224.34" y2="719.95" stroke="#000" stroke-width="1.15"/>
<line x1="1196.65" y1="692.75" x2="1208.34" y2="699.50" stroke="#000" stroke-width="1.15"/>
<line x1="1218.30" y1="705.25" x2="1229.56" y2="711.75" stroke="#000" stroke-width="1.15"/>
<text transform="translate(1213.11 705.19) scale(0.9 1)" font-size="8.2" text-anchor="middle">22h</text>
<line x1="1224.54" y1="698.68" x2="1234.05" y2="703.12" stroke="#000" stroke-width="1.15"/>
<line x1="1227.91" y1="690.54" x2="1237.78" y2="694.14" stroke="#000" stroke-width="1.15"/>
<line x1="1230.56" y1="682.14" x2="1240.70" y2="684.86" stroke="#000" stroke-width="1.15"/>
<line x1="1232.47" y1="673.54" x2="1242.81" y2="675.36" stroke="#000" stroke-width="1.15"/>
<line x1="1233.62" y1="664.80" x2="1244.08" y2="665.72" stroke="#000" stroke-width="1.15"/>
<line x1="1152.89" y1="589.93" x2="1154.33" y2="585.14" stroke="#ff6600" stroke-width="1"/>
<line x1="1175.95" y1="602.00" x2="1179.07" y2="598.09" stroke="#0000ff" stroke-width="1"/>
<line x1="1090.52" y1="601.63" x2="1087.44" y2="597.69" stroke="#ff0000" stroke-width="1"/>
<line x1="1066.35" y1="638.14" x2="1061.52" y2="636.85" stroke="#666" stroke-width="1"/>
<line x1="1201.96" y1="658.41" x2="1206.95" y2="658.58" stroke="#8000ff" stroke-width="1"/>
<line x1="1199.88" y1="672.98" x2="1204.72" y2="674.22" stroke="#8b4a00" stroke-width="1"/>
<line x1="1185.27" y1="701.04" x2="1189.06" y2="704.30" stroke="#ff00ff" stroke-width="1"/>
<line x1="1171.33" y1="713.37" x2="1174.11" y2="717.53" stroke="#3a003a" stroke-width="1"/>
<line x1="1133.50" y1="725.00" x2="1133.50" y2="730.00" stroke="#c8c800" stroke-width="1"/>
<line x1="1106.32" y1="719.63" x2="1104.38" y2="724.24" stroke="#006400" stroke-width="1"/>
<line x1="1066.35" y1="638.14" x2="1199.88" y2="672.98" stroke="#ff0a60" stroke-width="2.1" stroke-dasharray="10.5 10.5"/>
<line x1="1090.52" y1="601.63" x2="1171.33" y2="713.37" stroke="#ff0a60" stroke-width="2.1" stroke-dasharray="10.5 10.5"/>
<line x1="1152.89" y1="589.93" x2="1106.32" y2="719.63" stroke="#ff0a60" stroke-width="2.1" stroke-dasharray="10.5 10.5"/>
<line x1="1066.35" y1="638.14" x2="1152.89" y2="589.93" stroke="#ff0a60" stroke-width="2.2" stroke-dasharray="3.4 2.2"/>
<line x1="1152.89" y1="589.93" x2="1201.96" y2="658.41" stroke="#ff0a60" stroke-width="2.2" stroke-dasharray="3.4 2.2"/>
<line x1="1175.95" y1="602.00" x2="1185.27" y2="701.04" stroke="#ff0a60" stroke-width="2.2" stroke-dasharray="3.4 2.2"/>
<line x1="1133.00" y1="725.00" x2="1201.96" y2="658.41" stroke="#ff0a60" stroke-width="2.2" stroke-dasharray="3.4 2.2"/>
<line x1="1171.33" y1="713.37" x2="1199.88" y2="672.98" stroke="#ff0000" stroke-width="2.4" stroke-dasharray="3.2 3"/>
<line x1="1090.52" y1="601.63" x2="1106.32" y2="719.63" stroke="#0000ff" stroke-width="2.2" stroke-linecap="round"/>
<line x1="1106.32" y1="719.63" x2="1171.33" y2="713.37" stroke="#0000ff" stroke-width="2.2" stroke-linecap="round"/>
<line x1="1152.89" y1="589.93" x2="1185.27" y2="701.04" stroke="#0000ff" stroke-width="2.2" stroke-linecap="round"/>
<line x1="1066.35" y1="638.14" x2="1175.95" y2="602.00" stroke="#0000ff" stroke-width="2.2" stroke-linecap="round"/>
<circle cx="1133.20" cy="654.10" r="13" fill="#fff"/>
<circle cx="1133.20" cy="654.10" r="10.3" fill="#fff" stroke="#0a6a0a" stroke-width="1.6"/>
<g transform="translate(1133.20 654.10)" fill="#006000">
<path d="M-6 -4 C-4 -8 2 -9 5 -7 C8 -6 9 -2 7 0 C5 -1 2 -1 1 1 C0 3 2 4 1 6 C0 8 -1 9 -2 9 C-3 6 -3 3 -5 2 C-7 1 -8 -2 -6 -4 Z"/>
<path d="M-2 -8 C0 -10 3 -9 4 -8 Z"/>
</g>
<use href="#jupiter" x="1166.75" y="500.50" width="19.00" height="19.00" color="#ff6600"/>
<line x1="1173.75" y1="523.00" x2="1165.75" y2="548.75" stroke="#ff6600" stroke-width="1"/>
<text transform="translate(1183.00 493.69) scale(0.9 1)" font-size="8.2" text-anchor="middle">04h53</text>
<use href="#uranus" x="1224.83" y="518.08" width="17.85" height="17.85" color="#0000ff"/>
<line x1="1227.00" y1="538.00" x2="1203.75" y2="567.50" stroke="#0000ff" stroke-width="1"/>
<text transform="translate(1247.00 514.94) scale(0.9 1)" font-size="8.2" text-anchor="middle">03h26</text>
<use href="#mars" x="1049.00" y="550.00" width="11.00" height="11.00" color="#ff0000"/>
<line x1="1062.00" y1="564.50" x2="1063.75" y2="568.75" stroke="#ff0000" stroke-width="1"/>
<text transform="translate(1042.00 542.19) scale(0.9 1)" font-size="8.2" text-anchor="middle">08h32</text>
<use href="#moon" x="1009.50" y="619.00" width="11.00" height="11.00" color="#787888"/>
<text transform="translate(996.25 622.19) scale(0.9 1)" font-size="8.2" text-anchor="middle">11h00</text>
<use href="#neptune" x="1294.95" y="654.45" width="12.60" height="12.60" color="#8000ff"/>
<line x1="1245.00" y1="661.25" x2="1290.00" y2="663.00" stroke="#8000ff" stroke-width="1"/>
<text transform="translate(1323.00 665.94) scale(0.9 1)" font-size="8.2" text-anchor="middle">23h52</text>
<use href="#saturn" x="1280.25" y="687.75" width="12.00" height="12.00" color="#8b4a00"/>
<line x1="1242.50" y1="683.75" x2="1275.00" y2="692.50" stroke="#8b4a00" stroke-width="1"/>
<text transform="translate(1305.75 702.94) scale(0.9 1)" font-size="8.2" text-anchor="middle">23h03</text>
<use href="#venus" x="1227.81" y="735.31" width="11.88" height="11.88" color="#ff00ff"/>
<line x1="1217.50" y1="728.75" x2="1227.00" y2="737.50" stroke="#ff00ff" stroke-width="1"/>
<text transform="translate(1250.00 759.94) scale(0.9 1)" font-size="8.2" text-anchor="middle">21h17</text>
<use href="#pluto" x="1223.00" y="794.00" width="13.00" height="13.00" color="#3a003a"/>
<line x1="1195.00" y1="748.75" x2="1223.75" y2="792.50" stroke="#3a003a" stroke-width="1"/>
<text transform="translate(1242.50 822.19) scale(0.9 1)" font-size="8.2" text-anchor="middle">20h15</text>
<use href="#sun" x="1123.75" y="790.50" width="19.00" height="19.00" color="#c8c800"/>
<line x1="1133.50" y1="767.50" x2="1133.50" y2="790.50" stroke="#c8c800" stroke-width="1"/>
<text transform="translate(1133.25 824.94) scale(0.9 1)" font-size="8.2" text-anchor="middle">18h00</text>
<use href="#mercury" x="1073.31" y="777.81" width="11.88" height="11.88" color="#006400"/>
<line x1="1090.00" y1="760.00" x2="1083.75" y2="775.00" stroke="#006400" stroke-width="1"/>
<text transform="translate(1071.75 807.19) scale(0.9 1)" font-size="8.2" text-anchor="middle">16h29</text>
<text transform="translate(1391.00 59.04) scale(0.975 1)" font-size="11" text-anchor="start">Distances au Soleil en UA</text>
<line x1="1391.00" y1="60.50" x2="1515.00" y2="60.50" stroke="#000" stroke-width="1"/>
<use href="#earth" x="1391.40" y="63.50" width="11.00" height="11.00" color="#000" style="--k:0.95"/>
<text transform="translate(1431.20 72.94) scale(0.975 1)" font-size="11" text-anchor="start">0.984</text>
<text transform="translate(1489.40 72.94) scale(0.975 1)" font-size="11" text-anchor="middle">-</text>
<use href="#mercury" x="1390.96" y="77.05" width="11.88" height="11.88" color="#000" style="--k:0.95"/>
<text transform="translate(1431.20 86.93) scale(0.975 1)" font-size="11" text-anchor="start">0.362</text>
<text transform="translate(1489.40 86.93) scale(0.975 1)" font-size="11" text-anchor="middle">+</text>
<use href="#venus" x="1390.96" y="91.04" width="11.88" height="11.88" color="#000" style="--k:0.95"/>
<text transform="translate(1431.20 100.92) scale(0.975 1)" font-size="11" text-anchor="start">0.724</text>
<text transform="translate(1489.40 100.92) scale(0.975 1)" font-size="11" text-anchor="middle">-</text>
<use href="#mars" x="1391.40" y="105.47" width="11.00" height="11.00" color="#000" style="--k:0.95"/>
<text transform="translate(1431.20 114.91) scale(0.975 1)" font-size="11" text-anchor="start">1.602</text>
<text transform="translate(1489.40 114.91) scale(0.975 1)" font-size="11" text-anchor="middle">+</text>
<use href="#jupiter" x="1391.40" y="119.46" width="11.00" height="11.00" color="#000" style="--k:0.95"/>
<text transform="translate(1431.20 128.90) scale(0.975 1)" font-size="11" text-anchor="start">5.079</text>
<text transform="translate(1489.40 128.90) scale(0.975 1)" font-size="11" text-anchor="middle">+</text>
<use href="#saturn" x="1391.40" y="133.45" width="11.00" height="11.00" color="#000" style="--k:0.95"/>
<text transform="translate(1431.20 142.89) scale(0.975 1)" font-size="11" text-anchor="start">9.634</text>
<text transform="translate(1489.40 142.89) scale(0.975 1)" font-size="11" text-anchor="middle">-</text>
<use href="#uranus" x="1391.12" y="147.16" width="11.55" height="11.55" color="#000" style="--k:0.95"/>
<text transform="translate(1431.20 156.88) scale(0.975 1)" font-size="11" text-anchor="start">19.555</text>
<text transform="translate(1489.40 156.88) scale(0.975 1)" font-size="11" text-anchor="middle">-</text>
<use href="#neptune" x="1391.12" y="161.16" width="11.55" height="11.55" color="#000" style="--k:0.95"/>
<text transform="translate(1431.20 170.87) scale(0.975 1)" font-size="11" text-anchor="start">29.895</text>
<text transform="translate(1489.40 170.87) scale(0.975 1)" font-size="11" text-anchor="middle">-</text>
<use href="#pluto" x="1391.40" y="175.42" width="11.00" height="11.00" color="#000" style="--k:0.95"/>
<text transform="translate(1431.20 184.86) scale(0.975 1)" font-size="11" text-anchor="start">35.164</text>
<text transform="translate(1489.40 184.86) scale(0.975 1)" font-size="11" text-anchor="middle">+</text>
<text transform="translate(1391.00 198.74) scale(0.975 1)" font-size="11" text-anchor="start">Domification : Placidus</text>
<line x1="1391.00" y1="200.50" x2="1497.80" y2="200.50" stroke="#000" stroke-width="1"/>
<text transform="translate(1391.00 212.94) scale(0.9 1)" font-size="11" text-anchor="start">I-VII</text>
<text transform="translate(1436.00 212.94) scale(0.975 1)" font-size="11" text-anchor="start">29</text>
<use href="#z10" x="1446.50" y="204.00" width="10.00" height="10.00" color="#000" style="--k:0.95"/>
<use href="#z4" x="1455.50" y="204.00" width="10.00" height="10.00" color="#000" style="--k:0.95"/>
<text transform="translate(1465.50 212.94) scale(0.975 1)" font-size="11" text-anchor="start">07</text>
<text transform="translate(1391.00 226.94) scale(0.9 1)" font-size="11" text-anchor="start">II-VIII</text>
<text transform="translate(1436.00 226.94) scale(0.975 1)" font-size="11" text-anchor="start">18</text>
<use href="#z12" x="1446.50" y="218.00" width="10.00" height="10.00" color="#000" style="--k:0.95"/>
<use href="#z6" x="1455.50" y="218.00" width="10.00" height="10.00" color="#000" style="--k:0.95"/>
<text transform="translate(1465.50 226.94) scale(0.975 1)" font-size="11" text-anchor="start">55</text>
<text transform="translate(1391.00 240.94) scale(0.9 1)" font-size="11" text-anchor="start">III-IX</text>
<text transform="translate(1436.00 240.94) scale(0.975 1)" font-size="11" text-anchor="start">28</text>
<use href="#z1" x="1446.50" y="232.00" width="10.00" height="10.00" color="#000" style="--k:0.95"/>
<use href="#z7" x="1455.50" y="232.00" width="10.00" height="10.00" color="#000" style="--k:0.95"/>
<text transform="translate(1465.50 240.94) scale(0.975 1)" font-size="11" text-anchor="start">22</text>
<text transform="translate(1391.00 254.94) scale(0.9 1)" font-size="11" text-anchor="start">IV-X</text>
<text transform="translate(1436.00 254.94) scale(0.975 1)" font-size="11" text-anchor="start">25</text>
<use href="#z2" x="1446.50" y="246.00" width="10.00" height="10.00" color="#000" style="--k:0.95"/>
<use href="#z8" x="1455.50" y="246.00" width="10.00" height="10.00" color="#000" style="--k:0.95"/>
<text transform="translate(1465.50 254.94) scale(0.975 1)" font-size="11" text-anchor="start">03</text>
<text transform="translate(1391.00 268.94) scale(0.9 1)" font-size="11" text-anchor="start">V-XI</text>
<text transform="translate(1436.00 268.94) scale(0.975 1)" font-size="11" text-anchor="start">15</text>
<use href="#z3" x="1446.50" y="260.00" width="10.00" height="10.00" color="#000" style="--k:0.95"/>
<use href="#z9" x="1455.50" y="260.00" width="10.00" height="10.00" color="#000" style="--k:0.95"/>
<text transform="translate(1465.50 268.94) scale(0.975 1)" font-size="11" text-anchor="start">48</text>
<text transform="translate(1391.00 282.94) scale(0.9 1)" font-size="11" text-anchor="start">VI-XII</text>
<text transform="translate(1436.00 282.94) scale(0.975 1)" font-size="11" text-anchor="start">05</text>
<use href="#z4" x="1446.50" y="274.00" width="10.00" height="10.00" color="#000" style="--k:0.95"/>
<use href="#z10" x="1455.50" y="274.00" width="10.00" height="10.00" color="#000" style="--k:0.95"/>
<text transform="translate(1465.50 282.94) scale(0.975 1)" font-size="11" text-anchor="start">26</text>
<text transform="translate(1391.00 296.54) scale(0.975 1)" font-size="11" text-anchor="start">Rétrogradations</text>
<line x1="1391.00" y1="297.50" x2="1467.70" y2="297.50" stroke="#000" stroke-width="1"/>
<use href="#mars" x="1391.40" y="301.90" width="11.00" height="11.00" color="#000" style="--k:0.95"/>
<text transform="translate(1409.30 311.34) scale(0.975 1)" font-size="11" text-anchor="start">du 06 12 24 au 24 02 25</text>
<use href="#jupiter" x="1391.40" y="315.80" width="11.00" height="11.00" color="#000" style="--k:0.95"/>
<text transform="translate(1409.30 325.24) scale(0.975 1)" font-size="11" text-anchor="start">du 09 10 24 au 04 02 25</text>
<use href="#uranus" x="1391.12" y="329.43" width="11.55" height="11.55" color="#000" style="--k:0.95"/>
<text transform="translate(1409.30 339.14) scale(0.975 1)" font-size="11" text-anchor="start">du 01 09 24 au 30 01 25</text>
<text transform="translate(1391.00 467.24) scale(0.975 1)" font-size="11" text-anchor="start">Distances à la Terre en UA</text>
<line x1="1391.00" y1="468.50" x2="1520.90" y2="468.50" stroke="#000" stroke-width="1"/>
<use href="#sun" x="1391.40" y="471.70" width="11.00" height="11.00" color="#000" style="--k:0.95"/>
<text transform="translate(1431.20 481.14) scale(0.975 1)" font-size="11" text-anchor="start">0.984</text>
<text transform="translate(1505.40 481.14) scale(0.975 1)" font-size="11" text-anchor="middle">-</text>
<use href="#moon" x="1391.40" y="485.70" width="11.00" height="11.00" color="#000" style="--k:0.95"/>
<text transform="translate(1431.20 495.14) scale(0.975 1)" font-size="11" text-anchor="start">398 979 km</text>
<text transform="translate(1505.40 495.14) scale(0.975 1)" font-size="11" text-anchor="middle">+</text>
<use href="#mercury" x="1390.96" y="499.26" width="11.88" height="11.88" color="#000" style="--k:0.95"/>
<text transform="translate(1431.20 509.14) scale(0.975 1)" font-size="11" text-anchor="start">0.934</text>
<text transform="translate(1505.40 509.14) scale(0.975 1)" font-size="11" text-anchor="middle">+</text>
<use href="#venus" x="1390.96" y="513.26" width="11.88" height="11.88" color="#000" style="--k:0.95"/>
<text transform="translate(1431.20 523.14) scale(0.975 1)" font-size="11" text-anchor="start">0.829</text>
<text transform="translate(1505.40 523.14) scale(0.975 1)" font-size="11" text-anchor="middle">-</text>
<use href="#mars" x="1391.40" y="527.70" width="11.00" height="11.00" color="#000" style="--k:0.95"/>
<text transform="translate(1431.20 537.14) scale(0.975 1)" font-size="11" text-anchor="start">0.693</text>
<text transform="translate(1505.40 537.14) scale(0.975 1)" font-size="11" text-anchor="middle">-</text>
<use href="#jupiter" x="1391.40" y="541.70" width="11.00" height="11.00" color="#000" style="--k:0.95"/>
<text transform="translate(1431.20 551.14) scale(0.975 1)" font-size="11" text-anchor="start">4.125</text>
<text transform="translate(1505.40 551.14) scale(0.975 1)" font-size="11" text-anchor="middle">+</text>
<use href="#saturn" x="1391.40" y="555.70" width="11.00" height="11.00" color="#000" style="--k:0.95"/>
<text transform="translate(1431.20 565.14) scale(0.975 1)" font-size="11" text-anchor="start">9.862</text>
<text transform="translate(1505.40 565.14) scale(0.975 1)" font-size="11" text-anchor="middle">+</text>
<use href="#uranus" x="1391.12" y="569.43" width="11.55" height="11.55" color="#000" style="--k:0.95"/>
<text transform="translate(1431.20 579.14) scale(0.975 1)" font-size="11" text-anchor="start">18.751</text>
<text transform="translate(1505.40 579.14) scale(0.975 1)" font-size="11" text-anchor="middle">+</text>
<use href="#neptune" x="1391.12" y="583.43" width="11.55" height="11.55" color="#000" style="--k:0.95"/>
<text transform="translate(1431.20 593.14) scale(0.975 1)" font-size="11" text-anchor="start">29.927</text>
<text transform="translate(1505.40 593.14) scale(0.975 1)" font-size="11" text-anchor="middle">+</text>
<use href="#pluto" x="1391.40" y="597.70" width="11.00" height="11.00" color="#000" style="--k:0.95"/>
<text transform="translate(1431.20 607.14) scale(0.975 1)" font-size="11" text-anchor="start">36.004</text>
<text transform="translate(1505.40 607.14) scale(0.975 1)" font-size="11" text-anchor="middle">+</text>
<text transform="translate(1451.00 662.94) scale(0.975 1)" font-size="11" text-anchor="middle">IG relatives</text>
<line x1="1391.00" y1="664.50" x2="1513.60" y2="664.50" stroke="#000" stroke-width="1"/>
<text transform="translate(1391.00 677.54) scale(0.975 1)" font-size="11" text-anchor="start">Héliocentr.</text>
<text transform="translate(1463.00 677.54) scale(0.975 1)" font-size="11" text-anchor="start">Géocentr.</text>
<use href="#earth" x="1391.40" y="681.50" width="11.00" height="11.00" color="#000" style="--k:0.95"/>
<use href="#moon" x="1402.00" y="681.50" width="11.00" height="11.00" color="#000" style="--k:0.95"/>
<text transform="translate(1423.00 690.94) scale(0.975 1)" font-size="11" text-anchor="start">98</text>
<use href="#sun" x="1471.50" y="681.50" width="11.00" height="11.00" color="#000" style="--k:0.95"/>
<text transform="translate(1495.00 690.94) scale(0.975 1)" font-size="11" text-anchor="start">98</text>
<use href="#moon" x="1471.50" y="695.50" width="11.00" height="11.00" color="#000" style="--k:0.95"/>
<text transform="translate(1495.00 704.94) scale(0.975 1)" font-size="11" text-anchor="start">13</text>
<use href="#mercury" x="1391.06" y="709.06" width="11.88" height="11.88" color="#000" style="--k:0.95"/>
<text transform="translate(1423.00 718.94) scale(0.975 1)" font-size="11" text-anchor="start">51</text>
<use href="#mercury" x="1471.06" y="709.06" width="11.88" height="11.88" color="#000" style="--k:0.95"/>
<text transform="translate(1495.00 718.94) scale(0.975 1)" font-size="11" text-anchor="start">21</text>
<use href="#venus" x="1391.06" y="723.06" width="11.88" height="11.88" color="#000" style="--k:0.95"/>
<text transform="translate(1423.00 732.94) scale(0.975 1)" font-size="11" text-anchor="start">43</text>
<use href="#venus" x="1471.06" y="723.06" width="11.88" height="11.88" color="#000" style="--k:0.95"/>
<text transform="translate(1495.00 732.94) scale(0.975 1)" font-size="11" text-anchor="start">8</text>
<use href="#mars" x="1391.50" y="737.50" width="11.00" height="11.00" color="#000" style="--k:0.95"/>
<text transform="translate(1423.00 746.94) scale(0.975 1)" font-size="11" text-anchor="start">18</text>
<use href="#mars" x="1471.50" y="737.50" width="11.00" height="11.00" color="#000" style="--k:0.95"/>
<text transform="translate(1495.00 746.94) scale(0.975 1)" font-size="11" text-anchor="start">26</text>
<use href="#jupiter" x="1391.50" y="751.50" width="11.00" height="11.00" color="#000" style="--k:0.95"/>
<text transform="translate(1423.00 760.94) scale(0.975 1)" font-size="11" text-anchor="start">72</text>
<use href="#jupiter" x="1471.50" y="751.50" width="11.00" height="11.00" color="#000" style="--k:0.95"/>
<text transform="translate(1495.00 760.94) scale(0.975 1)" font-size="11" text-anchor="start">86</text>
<use href="#saturn" x="1391.50" y="765.50" width="11.00" height="11.00" color="#000" style="--k:0.95"/>
<text transform="translate(1423.00 774.94) scale(0.975 1)" font-size="11" text-anchor="start">41</text>
<use href="#saturn" x="1471.50" y="765.50" width="11.00" height="11.00" color="#000" style="--k:0.95"/>
<text transform="translate(1495.00 774.94) scale(0.975 1)" font-size="11" text-anchor="start">30</text>
<use href="#uranus" x="1391.22" y="779.23" width="11.55" height="11.55" color="#000" style="--k:0.95"/>
<text transform="translate(1423.00 788.94) scale(0.975 1)" font-size="11" text-anchor="start">27</text>
<use href="#uranus" x="1471.22" y="779.23" width="11.55" height="11.55" color="#000" style="--k:0.95"/>
<text transform="translate(1495.00 788.94) scale(0.975 1)" font-size="11" text-anchor="start">77</text>
<use href="#neptune" x="1391.22" y="793.23" width="11.55" height="11.55" color="#000" style="--k:0.95"/>
<text transform="translate(1423.00 802.94) scale(0.975 1)" font-size="11" text-anchor="start">72</text>
<use href="#neptune" x="1471.22" y="793.23" width="11.55" height="11.55" color="#000" style="--k:0.95"/>
<text transform="translate(1495.00 802.94) scale(0.975 1)" font-size="11" text-anchor="start">51</text>
<use href="#pluto" x="1391.50" y="807.50" width="11.00" height="11.00" color="#000" style="--k:0.95"/>
<text transform="translate(1423.00 816.94) scale(0.975 1)" font-size="11" text-anchor="start">51</text>
<use href="#pluto" x="1471.50" y="807.50" width="11.00" height="11.00" color="#000" style="--k:0.95"/>
<text transform="translate(1495.00 816.94) scale(0.975 1)" font-size="11" text-anchor="start">42</text>
</svg></body></html>
